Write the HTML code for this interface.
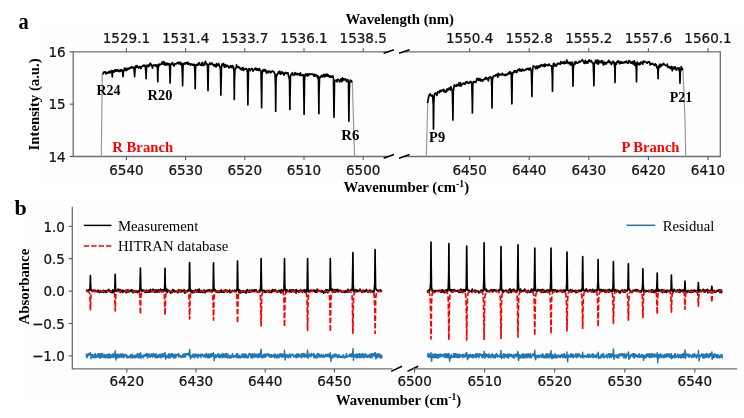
<!DOCTYPE html>
<html><head><meta charset="utf-8"><title>Figure</title>
<style>html,body{margin:0;padding:0;background:#fff}svg{display:block}</style></head>
<body>
<svg width="744" height="418" viewBox="0 0 744 418">
<rect width="744" height="418" fill="#fff"/>
<rect x="42.3" y="25" width="701.7" height="158" fill="#fefefe"/>
<rect x="24" y="203" width="720" height="193" fill="#fefefe"/>
<g fill="none" stroke="#6e6e6e" stroke-width="1.3">
<path d="M388.8,51.8 H73.2 V156.5 H388.8"/>
<path d="M404.4,51.8 H720.3 V156.5 H404.4"/>
</g>
<g stroke="#555" stroke-width="1.1">
<path d="M126.4,156.5 v3.6 M126.4,51.8 v-3.6"/>
<path d="M185.6,156.5 v3.6 M185.6,51.8 v-3.6"/>
<path d="M244.8,156.5 v3.6 M244.8,51.8 v-3.6"/>
<path d="M304.0,156.5 v3.6 M304.0,51.8 v-3.6"/>
<path d="M363.2,156.5 v3.6 M363.2,51.8 v-3.6"/>
<path d="M469.6,156.5 v3.6 M469.6,51.8 v-3.6"/>
<path d="M529.2,156.5 v3.6 M529.2,51.8 v-3.6"/>
<path d="M588.8,156.5 v3.6 M588.8,51.8 v-3.6"/>
<path d="M648.4,156.5 v3.6 M648.4,51.8 v-3.6"/>
<path d="M708.0,156.5 v3.6 M708.0,51.8 v-3.6"/>
<path d="M73.2,51.8 h-3.6"/>
<path d="M73.2,104.15 h-3.6"/>
<path d="M73.2,156.5 h-3.6"/>
</g>
<g stroke="#000" stroke-width="1.6">
<path d="M383.6,53.3 L394.0,49.7 M399.0,53.3 L409.6,49.7"/>
<path d="M383.6,158.20000000000002 L394.0,154.6 M399.0,158.20000000000002 L409.6,154.6"/>
<path d="M391.2,371.4 L402.0,366.3 M407.4,371.4 L418.2,366.3"/>
</g>
<g fill="none" stroke="#9a9a9a" stroke-width="1.2">
<path d="M102.3,73.0 L101.3,156.5"/>
<path d="M352.3,81.5 L354.6,156.5"/>
<path d="M427.7,103 L426.3,156.5"/>
<path d="M683.0,70.2 L685.0,120 L685.8,156.5"/>
</g>
<g fill="none" stroke="#000" stroke-width="1.7" stroke-linejoin="round">
<polyline points="102.5,73.8 103.0,73.8 103.5,72.7 104.0,71.9 104.5,72.3 105.0,71.8 105.5,72.5 106.0,73.9 106.5,72.3 107.0,72.5 107.5,73.2 108.0,72.9 108.5,72.3 109.0,71.3 109.5,72.1 110.0,73.0 110.5,71.3 111.0,71.8 111.5,70.6 112.0,71.4 112.3,77.0 112.5,73.1 113.0,70.5 113.5,71.8 114.0,71.7 114.5,71.8 115.0,69.6 115.5,71.0 116.0,71.1 116.5,71.2 117.0,69.7 117.5,70.8 118.0,70.0 118.5,70.3 119.0,71.7 119.5,70.3 120.0,70.6 120.5,71.4 121.0,69.6 121.5,70.1 122.0,70.2 122.5,71.0 123.0,76.7 123.5,70.4 124.0,70.8 124.5,68.2 125.0,70.4 125.5,69.7 126.0,68.3 126.5,70.5 127.0,69.5 127.5,68.5 128.0,69.3 128.5,68.8 129.0,68.1 129.5,68.6 130.0,67.6 130.5,68.0 131.0,68.2 131.5,66.7 132.0,67.1 132.5,67.3 133.0,68.0 133.5,67.2 134.0,68.1 134.5,74.6 134.6,76.7 135.0,69.9 135.5,66.0 136.0,66.1 136.5,67.4 137.0,65.5 137.5,67.0 138.0,67.4 138.5,68.1 139.0,67.5 139.5,66.5 140.0,66.8 140.5,67.1 141.0,68.5 141.5,66.5 142.0,66.4 142.5,66.5 143.0,65.6 143.5,65.6 144.0,65.0 144.5,66.5 145.0,65.6 145.5,67.3 146.0,74.5 146.1,78.7 146.5,67.0 147.0,65.0 147.5,66.4 148.0,66.1 148.5,66.5 149.0,64.5 149.5,66.0 150.0,63.6 150.5,63.2 151.0,64.5 151.5,64.9 152.0,66.3 152.5,68.2 153.0,65.4 153.5,65.1 154.0,65.7 154.5,65.6 155.0,64.9 155.5,64.9 156.0,66.3 156.5,66.2 157.0,64.9 157.5,68.0 157.8,81.7 158.0,70.2 158.5,66.3 159.0,64.1 159.5,65.5 160.0,64.2 160.5,64.5 161.0,64.2 161.5,64.2 162.0,62.0 162.5,62.5 163.0,64.0 163.5,61.6 164.0,64.3 164.5,62.4 165.0,65.1 165.5,63.3 166.0,64.8 166.5,64.1 167.0,63.1 167.5,64.9 168.0,64.9 168.5,63.5 169.0,63.5 169.5,64.8 170.0,76.2 170.1,83.0 170.5,65.5 171.0,63.9 171.5,63.5 172.0,63.3 172.5,62.7 173.0,64.9 173.5,64.5 174.0,66.1 174.5,64.9 175.0,63.7 175.5,63.9 176.0,63.6 176.5,63.8 177.0,63.0 177.5,63.3 178.0,62.4 178.5,62.4 179.0,63.9 179.5,62.4 180.0,62.3 180.5,63.9 181.0,64.8 181.5,63.0 182.0,64.9 182.5,78.5 182.6,85.7 183.0,66.7 183.5,63.5 184.0,63.8 184.5,63.1 185.0,64.2 185.5,62.9 186.0,63.2 186.5,62.7 187.0,62.3 187.5,64.2 188.0,62.3 188.5,64.2 189.0,64.5 189.5,64.2 190.0,63.7 190.5,65.0 191.0,64.2 191.5,64.0 192.0,64.0 192.5,65.2 193.0,65.2 193.5,64.5 194.0,64.3 194.5,64.6 195.0,74.7 195.2,88.7 195.5,68.5 196.0,65.0 196.5,64.5 197.0,65.1 197.5,65.1 198.0,63.9 198.5,65.0 199.0,62.6 199.5,64.2 200.0,64.3 200.5,64.4 201.0,65.4 201.5,64.5 202.0,62.8 202.5,62.5 203.0,65.6 203.5,64.3 204.0,65.1 204.5,65.0 205.0,62.1 205.5,61.4 206.0,63.8 206.5,64.1 207.0,63.9 207.5,66.0 208.0,90.7 208.5,64.9 209.0,64.3 209.5,63.7 210.0,62.9 210.5,64.6 211.0,64.0 211.5,64.0 212.0,63.0 212.5,64.0 213.0,64.8 213.5,65.4 214.0,66.0 214.5,64.5 215.0,65.5 215.5,65.4 216.0,67.0 216.5,63.7 217.0,65.7 217.5,64.9 218.0,65.1 218.5,63.6 219.0,64.6 219.5,66.5 220.0,66.6 220.5,69.7 220.9,95.1 221.0,87.1 221.5,67.3 222.0,64.1 222.5,65.2 223.0,64.4 223.5,63.5 224.0,66.0 224.5,67.3 225.0,66.3 225.5,64.7 226.0,65.6 226.5,66.8 227.0,66.0 227.5,65.4 228.0,66.2 228.5,66.7 229.0,68.0 229.5,67.2 230.0,67.0 230.5,65.6 231.0,67.2 231.5,66.3 232.0,67.7 232.5,65.5 233.0,66.4 233.5,67.1 234.0,71.8 234.3,99.4 234.5,80.1 235.0,69.0 235.5,69.1 236.0,68.1 236.5,64.8 237.0,67.1 237.5,66.9 238.0,67.5 238.5,66.6 239.0,67.2 239.5,67.4 240.0,68.8 240.5,68.8 241.0,68.4 241.5,70.0 242.0,68.2 242.5,68.7 243.0,67.5 243.5,70.5 244.0,69.8 244.5,69.3 245.0,69.0 245.5,68.5 246.0,69.2 246.5,68.6 247.0,69.8 247.5,73.5 247.9,104.8 248.0,93.3 248.5,70.2 249.0,68.7 249.5,68.6 250.0,70.6 250.5,69.5 251.0,69.5 251.5,68.9 252.0,68.5 252.5,69.5 253.0,71.3 253.5,70.0 254.0,69.8 254.5,68.8 255.0,69.7 255.5,68.1 256.0,69.4 256.5,68.7 257.0,70.3 257.5,68.8 258.0,69.9 258.5,70.4 259.0,68.8 259.5,68.7 260.0,70.2 260.5,70.8 261.0,71.1 261.5,95.8 261.6,107.7 262.0,75.0 262.5,71.7 263.0,69.9 263.5,71.0 264.0,69.5 264.5,69.5 265.0,71.1 265.5,69.9 266.0,72.0 266.5,73.0 267.0,71.4 267.5,72.0 268.0,72.7 268.5,71.1 269.0,71.2 269.5,71.1 270.0,72.2 270.5,72.8 271.0,72.3 271.5,71.3 272.0,71.3 272.5,71.1 273.0,71.5 273.5,71.3 274.0,72.4 274.5,73.3 275.0,74.1 275.5,86.8 275.7,111.2 276.0,80.1 276.5,74.6 277.0,75.6 277.5,74.2 278.0,73.1 278.5,72.0 279.0,73.4 279.5,71.4 280.0,71.6 280.5,74.1 281.0,73.9 281.5,73.2 282.0,71.7 282.5,73.0 283.0,72.7 283.5,73.7 284.0,75.1 284.5,73.7 285.0,72.9 285.5,72.5 286.0,73.5 286.5,73.4 287.0,72.7 287.5,73.4 288.0,73.0 288.5,75.8 289.0,77.2 289.5,80.3 289.9,109.5 290.0,99.0 290.5,76.1 291.0,74.7 291.5,74.0 292.0,73.4 292.5,72.8 293.0,75.4 293.5,74.4 294.0,74.5 294.5,74.9 295.0,72.7 295.5,73.8 296.0,74.7 296.5,74.5 297.0,73.3 297.5,74.6 298.0,74.3 298.5,73.8 299.0,73.8 299.5,75.4 300.0,75.0 300.5,72.8 301.0,75.3 301.5,75.2 302.0,75.7 302.5,74.8 303.0,74.7 303.5,75.7 304.0,103.9 304.1,114.2 304.5,80.8 305.0,74.6 305.5,75.0 306.0,74.0 306.5,75.0 307.0,75.9 307.5,73.9 308.0,75.8 308.5,75.2 309.0,73.8 309.5,74.3 310.0,74.1 310.5,74.5 311.0,74.2 311.5,74.0 312.0,74.3 312.5,74.0 313.0,74.0 313.5,75.4 314.0,76.3 314.5,74.3 315.0,76.1 315.5,75.0 316.0,74.8 316.5,75.7 317.0,75.4 317.5,77.6 318.0,76.0 318.5,81.2 318.9,113.6 319.0,94.0 319.5,78.8 320.0,76.8 320.5,77.2 321.0,76.5 321.5,75.5 322.0,76.5 322.5,75.8 323.0,76.8 323.5,74.6 324.0,76.3 324.5,74.6 325.0,76.7 325.5,75.0 326.0,74.2 326.5,75.7 327.0,76.2 327.5,74.2 328.0,75.0 328.5,76.0 329.0,75.7 329.5,77.2 330.0,75.9 330.5,76.0 331.0,77.0 331.5,76.2 332.0,77.2 332.5,76.0 333.0,76.2 333.5,78.9 334.0,117.2 334.5,81.9 335.0,80.7 335.5,80.7 336.0,80.2 336.5,80.3 337.0,81.8 337.5,79.4 338.0,79.4 338.5,79.9 339.0,80.3 339.5,81.8 340.0,81.6 340.5,79.4 341.0,79.0 341.5,80.1 342.0,81.7 342.5,77.9 343.0,80.3 343.5,78.9 344.0,80.1 344.5,79.0 345.0,79.6 345.5,79.0 346.0,79.3 346.5,81.7 347.0,81.1 347.5,79.9 348.0,79.8 348.5,82.7 348.9,121.1 349.0,108.2 349.5,83.1 350.0,82.0 350.5,80.0 351.0,81.2 351.5,81.0 352.0,82.6"/>
<polyline points="427.6,103.0 428.2,99.5 428.8,96.2 429.3,94.9 429.8,94.6 430.3,93.7 430.8,95.5 431.3,95.6 431.8,96.2 432.3,95.2 432.8,97.1 433.3,105.1 433.5,129.0 433.8,102.4 434.3,95.1 434.8,93.5 435.3,93.4 435.8,92.8 436.3,93.9 436.8,95.5 437.3,93.4 437.8,91.5 438.3,92.0 438.8,92.3 439.3,92.9 439.8,90.9 440.3,90.4 440.8,91.3 441.3,91.3 441.8,90.4 442.3,90.2 442.8,89.9 443.3,90.8 443.8,89.3 444.3,92.0 444.8,90.8 445.3,91.5 445.8,92.2 446.3,91.4 446.8,89.2 447.3,90.6 447.8,90.6 448.3,88.6 448.8,88.3 449.3,88.9 449.8,88.0 450.3,90.1 450.8,86.8 451.3,88.1 451.8,89.6 452.3,90.0 452.8,110.1 452.9,120.0 453.3,90.8 453.8,88.4 454.3,84.9 454.8,86.3 455.3,85.5 455.8,86.1 456.3,86.1 456.8,84.7 457.3,85.2 457.8,85.7 458.3,84.9 458.8,83.2 459.3,85.7 459.8,85.8 460.3,82.5 460.8,84.3 461.3,86.0 461.8,84.7 462.3,84.1 462.8,83.7 463.3,83.2 463.8,83.8 464.3,83.7 464.8,84.4 465.3,82.7 465.8,82.2 466.3,81.7 466.8,82.8 467.3,82.0 467.8,82.4 468.3,83.4 468.8,82.8 469.3,83.0 469.8,82.1 470.3,81.7 470.8,81.4 471.3,82.4 471.8,84.6 472.3,102.6 472.4,112.9 472.8,85.0 473.3,81.6 473.8,81.5 474.3,81.7 474.8,82.1 475.3,81.6 475.8,82.5 476.3,80.9 476.8,78.7 477.3,79.7 477.8,78.3 478.3,80.3 478.8,80.5 479.3,80.3 479.8,78.5 480.3,79.4 480.8,81.1 481.3,79.8 481.8,79.7 482.3,80.2 482.8,81.1 483.3,79.9 483.8,79.3 484.3,79.5 484.8,79.4 485.3,77.9 485.8,77.5 486.3,78.8 486.8,77.8 487.3,78.9 487.8,78.8 488.3,80.8 488.8,77.7 489.3,77.6 489.8,77.1 490.3,76.9 490.8,77.9 491.3,77.7 491.8,87.2 492.0,108.0 492.3,81.7 492.8,78.1 493.3,76.4 493.8,75.7 494.3,75.7 494.8,76.0 495.3,76.0 495.8,74.8 496.3,75.3 496.8,74.4 497.3,75.3 497.8,77.2 498.3,73.4 498.8,74.4 499.3,75.2 499.8,74.2 500.3,74.4 500.8,74.6 501.3,74.9 501.8,74.5 502.3,73.3 502.8,74.9 503.3,74.4 503.8,74.3 504.3,75.1 504.8,75.4 505.3,75.4 505.8,74.2 506.3,75.0 506.8,75.1 507.3,74.2 507.8,74.2 508.3,73.0 508.8,72.8 509.3,73.8 509.8,71.7 510.3,73.6 510.8,72.3 511.3,73.7 511.8,98.5 511.9,103.8 512.3,75.3 512.8,72.7 513.3,72.7 513.8,71.3 514.3,72.0 514.8,70.5 515.3,71.8 515.8,70.8 516.3,72.2 516.8,72.5 517.3,70.8 517.8,69.8 518.3,70.3 518.8,69.6 519.3,69.0 519.8,70.9 520.3,70.5 520.8,69.5 521.3,71.3 521.8,70.8 522.3,69.2 522.8,69.4 523.3,70.3 523.8,70.7 524.3,70.4 524.8,70.4 525.3,69.6 525.8,69.3 526.3,69.7 526.8,69.2 527.3,68.4 527.8,69.2 528.3,69.5 528.8,68.4 529.3,69.9 529.8,69.1 530.3,68.0 530.8,69.8 531.3,70.4 531.8,88.1 531.9,96.4 532.3,72.2 532.8,68.9 533.3,65.9 533.8,66.8 534.3,66.5 534.8,66.3 535.3,67.4 535.8,68.7 536.3,67.3 536.8,66.1 537.3,68.5 537.8,66.3 538.3,66.1 538.8,67.5 539.3,67.1 539.8,65.6 540.3,66.8 540.8,65.4 541.3,64.6 541.8,65.4 542.3,66.0 542.8,65.2 543.3,65.2 543.8,64.6 544.3,66.7 544.8,64.0 545.3,66.2 545.8,64.6 546.3,64.8 546.8,65.0 547.3,65.4 547.8,65.6 548.3,65.1 548.8,64.1 549.3,64.5 549.8,65.1 550.3,65.6 550.8,65.9 551.3,65.8 551.8,66.9 552.3,75.9 552.5,91.2 552.8,68.8 553.3,64.0 553.8,63.3 554.3,65.9 554.8,64.0 555.3,65.8 555.8,65.2 556.3,66.1 556.8,65.2 557.3,63.7 557.8,63.1 558.3,63.8 558.8,64.0 559.3,63.5 559.8,63.3 560.3,64.4 560.8,61.7 561.3,63.2 561.8,62.3 562.3,62.6 562.8,63.3 563.3,62.2 563.8,63.4 564.3,61.6 564.8,63.6 565.3,62.3 565.8,63.2 566.3,63.0 566.8,60.0 567.3,61.2 567.8,62.3 568.3,63.5 568.8,62.8 569.3,63.0 569.8,62.1 570.3,65.0 570.8,64.9 571.3,62.8 571.8,62.6 572.3,62.2 572.8,72.4 573.0,86.2 573.3,68.4 573.8,64.9 574.3,63.9 574.8,62.2 575.3,64.0 575.8,61.6 576.3,62.3 576.8,62.9 577.3,63.1 577.8,63.1 578.3,62.7 578.8,62.2 579.3,61.1 579.8,62.2 580.3,61.8 580.8,61.2 581.3,60.9 581.8,60.7 582.3,59.5 582.8,61.0 583.3,61.0 583.8,62.8 584.3,62.0 584.8,63.4 585.3,60.4 585.8,61.9 586.3,63.0 586.8,62.0 587.3,61.5 587.8,63.1 588.3,61.2 588.8,60.3 589.3,59.8 589.8,61.4 590.3,61.7 590.8,60.8 591.3,60.6 591.8,62.2 592.3,62.6 592.8,62.5 593.3,64.5 593.8,79.3 593.9,85.7 594.3,64.5 594.8,63.0 595.3,61.5 595.8,60.1 596.3,62.0 596.8,63.0 597.3,63.6 597.8,60.0 598.3,64.1 598.8,60.7 599.3,62.5 599.8,62.6 600.3,62.5 600.8,61.9 601.3,60.6 601.8,62.9 602.3,62.2 602.8,61.0 603.3,65.0 603.8,63.4 604.3,64.3 604.8,62.0 605.3,63.5 605.8,63.6 606.3,64.0 606.8,62.6 607.3,62.1 607.8,62.3 608.3,60.8 608.8,60.3 609.3,62.7 609.8,61.5 610.3,62.5 610.8,62.3 611.3,64.5 611.8,63.7 612.3,62.2 612.8,62.5 613.3,61.2 613.8,61.9 614.3,63.8 614.8,68.1 615.0,82.5 615.3,64.6 615.8,62.9 616.3,64.3 616.8,61.8 617.3,62.4 617.8,60.9 618.3,61.4 618.8,61.1 619.3,63.4 619.8,63.7 620.3,62.6 620.8,61.7 621.3,63.2 621.8,62.2 622.3,63.1 622.8,62.2 623.3,62.3 623.8,62.8 624.3,62.2 624.8,62.5 625.3,61.6 625.8,62.4 626.3,61.1 626.8,62.3 627.3,62.4 627.8,63.3 628.3,62.8 628.8,60.6 629.3,61.2 629.8,61.0 630.3,62.6 630.8,63.2 631.3,62.6 631.8,61.9 632.3,63.6 632.8,61.5 633.3,64.0 633.8,62.6 634.3,60.8 634.8,65.3 635.3,64.1 635.8,63.0 636.3,70.1 636.5,81.7 636.8,66.5 637.3,62.1 637.8,62.9 638.3,64.3 638.8,64.2 639.3,64.8 639.8,63.2 640.3,64.3 640.8,62.0 641.3,62.8 641.8,62.2 642.3,62.7 642.8,64.2 643.3,61.2 643.8,62.4 644.3,62.2 644.8,61.3 645.3,61.7 645.8,62.0 646.3,62.2 646.8,63.1 647.3,63.2 647.8,62.0 648.3,61.8 648.8,62.1 649.3,61.7 649.8,63.2 650.3,64.9 650.8,63.9 651.3,63.5 651.8,64.1 652.3,63.9 652.8,63.5 653.3,64.0 653.8,64.8 654.3,65.3 654.8,65.4 655.3,63.9 655.8,64.4 656.3,64.7 656.8,67.6 657.3,67.0 657.8,69.6 658.1,78.7 658.3,70.9 658.8,65.5 659.3,65.5 659.8,67.3 660.3,64.2 660.8,66.3 661.3,66.0 661.8,64.5 662.3,64.9 662.8,65.0 663.3,63.4 663.8,64.6 664.3,64.1 664.8,64.9 665.3,65.1 665.8,65.7 666.3,65.5 666.8,65.6 667.3,64.2 667.8,67.4 668.3,67.1 668.8,67.0 669.3,66.6 669.8,67.5 670.3,68.6 670.8,68.2 671.3,66.4 671.8,68.8 672.3,70.7 672.8,67.0 673.3,68.9 673.8,68.4 674.3,67.1 674.8,68.7 675.3,66.8 675.8,69.0 676.3,70.1 676.8,68.7 677.3,68.1 677.8,68.6 678.3,67.9 678.8,70.0 679.3,68.1 679.8,74.5 680.0,83.2 680.3,72.5 680.8,69.3 681.3,66.6 681.8,69.6 682.3,68.6 682.8,70.2"/>
</g>
<g font-family="'DejaVu Sans', sans-serif" font-size="14.5" fill="#111" stroke="#111" stroke-width="0.25">
<text transform="translate(126.4,42.5) scale(0.934,1)" text-anchor="middle">1529.1</text>
<text transform="translate(185.6,42.5) scale(0.934,1)" text-anchor="middle">1531.4</text>
<text transform="translate(244.8,42.5) scale(0.934,1)" text-anchor="middle">1533.7</text>
<text transform="translate(304.0,42.5) scale(0.934,1)" text-anchor="middle">1536.1</text>
<text transform="translate(363.2,42.5) scale(0.934,1)" text-anchor="middle">1538.5</text>
<text transform="translate(469.6,42.5) scale(0.934,1)" text-anchor="middle">1550.4</text>
<text transform="translate(529.2,42.5) scale(0.934,1)" text-anchor="middle">1552.8</text>
<text transform="translate(588.8,42.5) scale(0.934,1)" text-anchor="middle">1555.2</text>
<text transform="translate(648.4,42.5) scale(0.934,1)" text-anchor="middle">1557.6</text>
<text transform="translate(708.0,42.5) scale(0.934,1)" text-anchor="middle">1560.1</text>
<text transform="translate(126.4,174.8) scale(0.934,1)" text-anchor="middle">6540</text>
<text transform="translate(185.6,174.8) scale(0.934,1)" text-anchor="middle">6530</text>
<text transform="translate(244.8,174.8) scale(0.934,1)" text-anchor="middle">6520</text>
<text transform="translate(304.0,174.8) scale(0.934,1)" text-anchor="middle">6510</text>
<text transform="translate(363.2,174.8) scale(0.934,1)" text-anchor="middle">6500</text>
<text transform="translate(469.6,174.8) scale(0.934,1)" text-anchor="middle">6450</text>
<text transform="translate(529.2,174.8) scale(0.934,1)" text-anchor="middle">6440</text>
<text transform="translate(588.8,174.8) scale(0.934,1)" text-anchor="middle">6430</text>
<text transform="translate(648.4,174.8) scale(0.934,1)" text-anchor="middle">6420</text>
<text transform="translate(708.0,174.8) scale(0.934,1)" text-anchor="middle">6410</text>
<text transform="translate(126.8,386.3) scale(0.934,1)" text-anchor="middle">6420</text>
<text transform="translate(196.0,386.3) scale(0.934,1)" text-anchor="middle">6430</text>
<text transform="translate(265.2,386.3) scale(0.934,1)" text-anchor="middle">6440</text>
<text transform="translate(334.4,386.3) scale(0.934,1)" text-anchor="middle">6450</text>
<text transform="translate(414.6,386.3) scale(0.934,1)" text-anchor="middle">6500</text>
<text transform="translate(484.7,386.3) scale(0.934,1)" text-anchor="middle">6510</text>
<text transform="translate(554.7,386.3) scale(0.934,1)" text-anchor="middle">6520</text>
<text transform="translate(624.8,386.3) scale(0.934,1)" text-anchor="middle">6530</text>
<text transform="translate(694.8,386.3) scale(0.934,1)" text-anchor="middle">6540</text>
<text transform="translate(65.6,57.0) scale(0.934,1)" text-anchor="end">16</text>
<text transform="translate(65.6,109.4) scale(0.934,1)" text-anchor="end">15</text>
<text transform="translate(65.6,161.7) scale(0.934,1)" text-anchor="end">14</text>
<text transform="translate(64.9,231.5) scale(0.934,1)" text-anchor="end">1.0</text>
<text transform="translate(64.9,263.9) scale(0.934,1)" text-anchor="end">0.5</text>
<text transform="translate(64.9,296.3) scale(0.934,1)" text-anchor="end">0.0</text>
<text transform="translate(64.9,328.7) scale(0.934,1)" text-anchor="end">−0.5</text>
<text transform="translate(64.9,361.1) scale(0.934,1)" text-anchor="end">−1.0</text>
</g>
<path d="M72.3,206.8 V368.9 H392.5 M412.8,368.9 H737.1" fill="none" stroke="#6e6e6e" stroke-width="1.3"/>
<g stroke="#555" stroke-width="1.1">
<path d="M72.3,226.3 h-3.6"/>
<path d="M72.3,258.7 h-3.6"/>
<path d="M72.3,291.1 h-3.6"/>
<path d="M72.3,323.5 h-3.6"/>
<path d="M72.3,355.9 h-3.6"/>
<path d="M126.8,368.9 v3.6"/>
<path d="M196.0,368.9 v3.6"/>
<path d="M265.2,368.9 v3.6"/>
<path d="M334.4,368.9 v3.6"/>
<path d="M414.6,368.9 v3.6"/>
<path d="M484.7,368.9 v3.6"/>
<path d="M554.7,368.9 v3.6"/>
<path d="M624.8,368.9 v3.6"/>
<path d="M694.8,368.9 v3.6"/>
</g>
<g fill="none" stroke-linejoin="round" stroke-width="1.5">
<polyline stroke="#000" stroke-width="1.7" points="86.4,291.0 86.8,290.2 87.2,291.0 87.6,291.3 88.0,291.4 88.4,290.0 88.8,289.9 89.2,289.5 89.6,289.8 90.0,290.0 90.4,275.5 90.4,276.5 90.8,288.9 91.2,289.2 91.6,290.6 92.0,291.1 92.4,290.7 92.8,291.0 93.2,291.2 93.6,290.0 94.0,291.0 94.4,290.4 94.8,290.2 95.2,290.5 95.6,291.5 96.0,291.2 96.4,291.0 96.8,291.0 97.2,291.8 97.6,290.8 98.0,290.1 98.4,291.5 98.8,292.0 99.2,292.3 99.6,290.8 100.0,292.3 100.4,290.6 100.8,292.1 101.2,291.7 101.6,291.9 102.0,292.0 102.4,291.1 102.8,291.5 103.2,290.4 103.6,292.4 104.0,291.4 104.4,291.0 104.8,290.6 105.2,291.3 105.6,292.4 106.0,290.7 106.4,292.2 106.8,291.0 107.2,291.8 107.6,291.4 108.0,290.0 108.4,291.3 108.8,289.3 109.2,290.4 109.6,291.0 110.0,291.3 110.4,292.0 110.8,290.9 111.2,292.4 111.6,291.4 112.0,292.3 112.4,292.5 112.8,289.9 113.2,292.2 113.6,291.5 114.0,291.2 114.4,291.4 114.8,289.3 115.2,274.5 115.2,274.4 115.6,289.9 116.0,291.2 116.4,290.4 116.8,290.9 117.2,290.2 117.6,291.0 118.0,289.1 118.4,290.9 118.8,290.9 119.2,289.7 119.6,291.3 120.0,289.5 120.4,292.4 120.8,290.6 121.2,291.5 121.6,291.2 122.0,290.2 122.4,290.2 122.8,292.4 123.2,291.8 123.6,291.8 124.0,290.7 124.4,291.2 124.8,290.8 125.2,290.4 125.6,290.4 126.0,292.6 126.4,292.2 126.8,290.2 127.2,290.0 127.6,291.7 128.0,292.0 128.4,291.2 128.8,290.1 129.2,291.6 129.6,291.2 130.0,291.5 130.4,290.7 130.8,290.9 131.2,290.4 131.6,289.8 132.0,290.0 132.4,292.4 132.8,290.3 133.2,292.6 133.6,292.4 134.0,291.0 134.4,291.2 134.8,290.6 135.2,291.5 135.6,292.2 136.0,292.1 136.4,290.7 136.8,291.9 137.2,292.6 137.6,291.4 138.0,291.4 138.4,291.0 138.8,291.8 139.2,291.0 139.6,291.2 140.0,287.4 140.4,269.5 140.4,268.0 140.8,288.6 141.2,289.2 141.6,290.4 142.0,291.5 142.4,290.0 142.8,290.0 143.2,290.3 143.6,291.2 144.0,290.2 144.4,290.8 144.8,291.9 145.2,292.4 145.6,291.8 146.0,292.5 146.4,290.0 146.8,291.4 147.2,292.1 147.6,292.2 148.0,291.0 148.4,290.5 148.8,290.3 149.2,292.2 149.6,291.6 150.0,290.0 150.4,289.4 150.8,292.0 151.2,290.2 151.6,291.1 152.0,290.9 152.4,291.7 152.8,289.3 153.2,290.0 153.6,289.4 154.0,291.9 154.4,291.2 154.8,290.3 155.2,292.3 155.6,291.8 156.0,289.8 156.4,291.8 156.8,290.4 157.2,291.6 157.6,290.4 158.0,292.2 158.4,289.9 158.8,291.0 159.2,290.4 159.6,291.8 160.0,290.9 160.4,289.2 160.8,290.5 161.2,290.4 161.6,291.8 162.0,289.9 162.4,291.5 162.8,290.2 163.2,289.8 163.6,291.6 164.0,290.6 164.4,290.6 164.8,284.4 165.0,268.3 165.2,283.5 165.6,288.9 166.0,291.0 166.4,289.4 166.8,289.1 167.2,292.4 167.6,290.7 168.0,290.7 168.4,290.1 168.8,291.5 169.2,290.9 169.6,290.9 170.0,291.1 170.4,292.6 170.8,293.1 171.2,291.9 171.6,291.2 172.0,290.9 172.4,292.3 172.8,289.7 173.2,291.4 173.6,290.0 174.0,290.2 174.4,291.7 174.8,291.0 175.2,291.4 175.6,291.8 176.0,291.6 176.4,291.1 176.8,291.9 177.2,291.4 177.6,291.6 178.0,292.8 178.4,289.9 178.8,289.9 179.2,291.3 179.6,290.2 180.0,290.5 180.4,292.0 180.8,290.1 181.2,290.4 181.6,291.5 182.0,290.4 182.4,291.4 182.8,291.2 183.2,291.7 183.6,291.2 184.0,289.7 184.4,289.9 184.8,293.2 185.2,291.6 185.6,291.0 186.0,291.8 186.4,290.8 186.8,291.8 187.2,290.8 187.6,290.6 188.0,289.9 188.4,290.3 188.8,291.2 189.2,289.5 189.6,262.6 189.6,262.7 190.0,287.0 190.4,290.0 190.8,291.4 191.2,291.9 191.6,290.4 192.0,291.5 192.4,292.3 192.8,292.7 193.2,290.6 193.6,292.4 194.0,290.8 194.4,292.4 194.8,291.4 195.2,290.8 195.6,289.7 196.0,290.5 196.4,291.5 196.8,292.0 197.2,291.1 197.6,289.8 198.0,292.2 198.4,292.0 198.8,291.3 199.2,289.2 199.6,291.4 200.0,292.0 200.4,292.3 200.8,292.1 201.2,290.4 201.6,290.9 202.0,292.3 202.4,292.1 202.8,292.4 203.2,291.3 203.6,290.6 204.0,289.9 204.4,291.4 204.8,292.7 205.2,291.1 205.6,292.0 206.0,290.6 206.4,291.0 206.8,291.3 207.2,290.3 207.6,290.2 208.0,291.5 208.4,290.6 208.8,290.8 209.2,289.5 209.6,291.4 210.0,290.6 210.4,291.2 210.8,291.3 211.2,290.1 211.6,290.6 212.0,290.5 212.4,291.4 212.8,291.1 213.2,287.8 213.5,262.8 213.6,273.1 214.0,289.6 214.4,290.7 214.8,289.3 215.2,290.4 215.6,291.5 216.0,291.9 216.4,291.7 216.8,290.8 217.2,292.3 217.6,291.4 218.0,291.5 218.4,291.8 218.8,291.1 219.2,292.5 219.6,292.0 220.0,292.0 220.4,290.7 220.8,290.5 221.2,289.9 221.6,292.1 222.0,292.2 222.4,291.0 222.8,291.7 223.2,291.9 223.6,290.6 224.0,292.5 224.4,290.8 224.8,290.5 225.2,290.0 225.6,291.3 226.0,290.9 226.4,291.6 226.8,290.1 227.2,292.2 227.6,290.7 228.0,291.7 228.4,291.4 228.8,291.3 229.2,290.7 229.6,290.0 230.0,292.7 230.4,292.4 230.8,291.7 231.2,292.0 231.6,290.9 232.0,291.3 232.4,290.5 232.8,291.2 233.2,291.0 233.6,291.1 234.0,291.2 234.4,291.4 234.8,290.0 235.2,290.8 235.6,290.7 236.0,291.6 236.4,291.0 236.8,290.4 237.2,287.3 237.5,261.1 237.6,270.5 238.0,288.3 238.4,290.6 238.8,292.4 239.2,290.2 239.6,289.9 240.0,292.9 240.4,293.0 240.8,290.9 241.2,292.3 241.6,291.6 242.0,292.2 242.4,290.7 242.8,290.9 243.2,292.2 243.6,290.7 244.0,291.8 244.4,291.1 244.8,292.0 245.2,292.0 245.6,291.1 246.0,293.1 246.4,291.6 246.8,291.7 247.2,289.6 247.6,290.0 248.0,291.1 248.4,292.2 248.8,291.5 249.2,291.2 249.6,290.0 250.0,292.3 250.4,292.1 250.8,291.0 251.2,291.5 251.6,291.3 252.0,289.9 252.4,291.0 252.8,291.5 253.2,291.6 253.6,291.0 254.0,290.0 254.4,289.8 254.8,291.6 255.2,290.0 255.6,290.0 256.0,289.7 256.4,291.2 256.8,291.6 257.2,291.9 257.6,292.1 258.0,291.7 258.4,291.3 258.8,290.6 259.2,290.6 259.6,292.4 260.0,289.7 260.4,290.7 260.8,284.6 261.1,258.7 261.2,269.1 261.6,288.3 262.0,290.0 262.4,291.2 262.8,290.7 263.2,290.6 263.6,290.7 264.0,290.2 264.4,291.9 264.8,291.5 265.2,292.3 265.6,292.1 266.0,290.9 266.4,290.9 266.8,292.0 267.2,290.7 267.6,290.3 268.0,290.7 268.4,291.5 268.8,292.1 269.2,292.5 269.6,290.3 270.0,292.2 270.4,291.7 270.8,292.3 271.2,291.2 271.6,292.5 272.0,290.8 272.4,289.5 272.8,290.0 273.2,291.2 273.6,290.3 274.0,291.4 274.4,291.5 274.8,290.5 275.2,289.6 275.6,290.0 276.0,291.2 276.4,291.3 276.8,291.1 277.2,292.3 277.6,291.2 278.0,290.9 278.4,291.4 278.8,291.7 279.2,290.2 279.6,290.8 280.0,291.8 280.4,290.8 280.8,292.8 281.2,289.9 281.6,289.6 282.0,291.8 282.4,290.4 282.8,290.7 283.2,292.0 283.6,290.4 284.0,289.1 284.4,269.4 284.5,258.7 284.8,284.6 285.2,289.8 285.6,290.3 286.0,292.2 286.4,289.6 286.8,289.8 287.2,290.2 287.6,291.3 288.0,291.6 288.4,291.5 288.8,291.3 289.2,291.5 289.6,289.9 290.0,290.0 290.4,291.9 290.8,290.2 291.2,292.2 291.6,290.7 292.0,289.9 292.4,290.0 292.8,290.6 293.2,289.9 293.6,291.7 294.0,291.0 294.4,291.2 294.8,291.5 295.2,290.0 295.6,290.3 296.0,293.2 296.4,289.5 296.8,291.6 297.2,291.4 297.6,291.1 298.0,290.6 298.4,290.9 298.8,292.2 299.2,291.7 299.6,290.7 300.0,290.4 300.4,290.0 300.8,291.5 301.2,290.8 301.6,290.2 302.0,291.5 302.4,292.4 302.8,291.8 303.2,290.4 303.6,291.0 304.0,290.0 304.4,289.8 304.8,292.2 305.2,290.7 305.6,290.1 306.0,291.4 306.4,292.5 306.8,291.9 307.2,286.8 307.6,258.7 307.6,258.7 308.0,288.3 308.4,291.2 308.8,291.8 309.2,291.7 309.6,290.6 310.0,290.7 310.4,290.4 310.8,290.8 311.2,290.3 311.6,290.2 312.0,290.6 312.4,290.6 312.8,291.1 313.2,291.2 313.6,290.3 314.0,290.0 314.4,291.5 314.8,291.5 315.2,292.0 315.6,290.7 316.0,291.6 316.4,290.5 316.8,292.2 317.2,289.2 317.6,289.9 318.0,290.9 318.4,291.1 318.8,290.6 319.2,290.6 319.6,290.7 320.0,291.1 320.4,291.3 320.8,291.3 321.2,290.5 321.6,292.2 322.0,291.3 322.4,290.9 322.8,291.8 323.2,291.7 323.6,293.1 324.0,291.6 324.4,292.1 324.8,290.9 325.2,291.2 325.6,292.5 326.0,289.6 326.4,290.6 326.8,291.3 327.2,289.8 327.6,292.6 328.0,290.4 328.4,292.1 328.8,290.8 329.2,290.0 329.6,290.5 330.0,285.3 330.3,258.7 330.4,269.0 330.8,287.6 331.2,290.2 331.6,290.7 332.0,290.6 332.4,289.1 332.8,292.4 333.2,292.1 333.6,290.6 334.0,290.0 334.4,289.7 334.8,291.9 335.2,290.7 335.6,292.2 336.0,289.6 336.4,289.9 336.8,291.3 337.2,291.4 337.6,289.3 338.0,292.0 338.4,291.2 338.8,290.4 339.2,290.2 339.6,291.3 340.0,291.2 340.4,290.8 340.8,290.3 341.2,290.9 341.6,292.0 342.0,291.8 342.4,292.1 342.8,291.4 343.2,291.5 343.6,291.2 344.0,292.0 344.4,291.3 344.8,292.4 345.2,290.9 345.6,290.6 346.0,291.8 346.4,291.2 346.8,292.1 347.2,292.1 347.6,290.6 348.0,289.3 348.4,291.8 348.8,291.8 349.2,290.9 349.6,291.3 350.0,291.4 350.4,289.7 350.8,290.1 351.2,290.4 351.6,290.6 352.0,290.7 352.4,286.4 352.8,264.1 352.9,252.7 353.2,284.2 353.6,289.5 354.0,291.7 354.4,291.9 354.8,291.7 355.2,291.8 355.6,289.6 356.0,290.5 356.4,291.4 356.8,291.7 357.2,290.1 357.6,291.1 358.0,290.7 358.4,291.2 358.8,291.3 359.2,290.4 359.6,290.3 360.0,289.1 360.4,291.2 360.8,290.8 361.2,290.6 361.6,291.6 362.0,292.4 362.4,290.4 362.8,291.8 363.2,290.4 363.6,291.8 364.0,291.1 364.4,290.7 364.8,291.8 365.2,291.4 365.6,290.4 366.0,291.1 366.4,289.6 366.8,290.4 367.2,291.6 367.6,291.8 368.0,292.4 368.4,291.1 368.8,290.7 369.2,290.4 369.6,290.5 370.0,290.0 370.4,292.2 370.8,291.8 371.2,291.5 371.6,290.9 372.0,290.7 372.4,291.4 372.8,292.0 373.2,291.6 373.6,292.0 374.0,291.6 374.4,288.7 374.8,283.1 375.1,249.5 375.2,262.9 375.6,288.4 376.0,288.9 376.4,289.7 376.8,290.3 377.2,290.2 377.6,290.8 378.0,290.4 378.4,291.5 378.8,290.3 379.2,290.8 379.6,291.3 380.0,290.6 380.4,289.8 380.8,290.9 381.2,291.4 381.6,291.0 382.0,290.4"/>
<polyline stroke="#000" stroke-width="1.7" points="427.5,290.3 427.9,292.3 428.3,290.4 428.7,290.1 429.1,292.0 429.5,290.6 429.9,289.9 430.3,287.7 430.7,281.9 431.0,242.0 431.1,258.5 431.5,287.5 431.9,289.3 432.3,291.2 432.7,291.5 433.1,291.0 433.5,290.6 433.9,292.7 434.3,290.5 434.7,290.8 435.1,290.6 435.5,291.6 435.9,290.7 436.3,291.0 436.7,291.1 437.1,290.9 437.5,290.4 437.9,291.0 438.3,291.4 438.7,290.7 439.1,290.5 439.5,290.6 439.9,290.1 440.3,291.2 440.7,292.1 441.1,291.6 441.5,290.4 441.9,292.2 442.3,289.8 442.7,291.1 443.1,290.2 443.5,290.4 443.9,292.5 444.3,290.8 444.7,292.7 445.1,292.5 445.5,290.0 445.9,291.0 446.3,291.3 446.7,289.9 447.1,291.2 447.5,291.8 447.9,290.0 448.3,288.2 448.7,275.1 448.9,243.7 449.1,274.9 449.5,288.6 449.9,290.5 450.3,290.8 450.7,291.1 451.1,289.6 451.5,290.9 451.9,291.6 452.3,290.2 452.7,292.2 453.1,289.8 453.5,291.0 453.9,290.7 454.3,289.6 454.7,289.9 455.1,291.0 455.5,290.6 455.9,290.9 456.3,290.8 456.7,290.9 457.1,290.7 457.5,291.1 457.9,290.4 458.3,290.7 458.7,292.2 459.1,290.3 459.5,292.3 459.9,291.2 460.3,292.5 460.7,289.2 461.1,289.9 461.5,289.5 461.9,292.1 462.3,290.5 462.7,292.5 463.1,291.7 463.5,289.6 463.9,290.6 464.3,290.0 464.7,290.8 465.1,291.6 465.5,289.6 465.9,289.9 466.3,285.9 466.7,246.0 466.7,246.1 467.1,286.1 467.5,289.7 467.9,290.5 468.3,290.4 468.7,290.2 469.1,290.4 469.5,292.1 469.9,290.9 470.3,290.9 470.7,291.1 471.1,291.4 471.5,290.5 471.9,292.2 472.3,289.1 472.7,290.9 473.1,290.5 473.5,291.1 473.9,291.5 474.3,291.7 474.7,290.1 475.1,291.5 475.5,292.3 475.9,290.4 476.3,290.6 476.7,291.2 477.1,291.6 477.5,291.3 477.9,291.0 478.3,291.1 478.7,292.9 479.1,291.8 479.5,292.3 479.9,291.5 480.3,291.5 480.7,291.6 481.1,290.0 481.5,292.2 481.9,290.4 482.3,292.1 482.7,291.3 483.1,291.1 483.5,289.5 483.9,276.3 484.1,242.9 484.3,275.1 484.7,287.5 485.1,290.1 485.5,290.4 485.9,289.3 486.3,289.2 486.7,291.6 487.1,290.4 487.5,291.4 487.9,290.8 488.3,291.5 488.7,291.2 489.1,291.1 489.5,291.8 489.9,290.7 490.3,290.9 490.7,290.0 491.1,290.7 491.5,289.7 491.9,291.3 492.3,290.0 492.7,291.9 493.1,291.1 493.5,289.8 493.9,289.9 494.3,290.7 494.7,289.6 495.1,290.5 495.5,290.1 495.9,289.9 496.3,291.6 496.7,291.3 497.1,291.5 497.5,291.0 497.9,291.0 498.3,290.9 498.7,289.9 499.1,290.9 499.5,289.9 499.9,290.6 500.3,288.7 500.7,282.3 501.0,246.6 501.1,262.8 501.5,287.6 501.9,290.1 502.3,291.1 502.7,291.5 503.1,292.3 503.5,290.4 503.9,290.7 504.3,291.0 504.7,291.1 505.1,290.6 505.5,290.9 505.9,290.2 506.3,290.8 506.7,290.4 507.1,292.0 507.5,290.9 507.9,291.0 508.3,291.1 508.7,292.9 509.1,289.7 509.5,291.0 509.9,288.9 510.3,291.6 510.7,290.0 511.1,292.5 511.5,290.9 511.9,291.5 512.3,289.6 512.7,290.7 513.1,290.1 513.5,290.4 513.9,289.2 514.3,290.7 514.7,291.5 515.1,290.5 515.5,291.7 515.9,291.0 516.3,291.3 516.7,291.1 517.1,291.6 517.5,287.8 517.9,259.0 518.0,244.8 518.3,280.5 518.7,289.2 519.1,289.7 519.5,290.9 519.9,289.6 520.3,291.9 520.7,289.1 521.1,291.2 521.5,291.7 521.9,290.8 522.3,290.9 522.7,291.0 523.1,291.3 523.5,290.3 523.9,290.2 524.3,290.8 524.7,289.1 525.1,290.6 525.5,290.1 525.9,291.9 526.3,290.9 526.7,290.8 527.1,291.6 527.5,292.6 527.9,291.2 528.3,290.3 528.7,291.2 529.1,291.3 529.5,292.5 529.9,291.3 530.3,292.0 530.7,292.0 531.1,290.2 531.5,289.1 531.9,291.4 532.3,291.7 532.7,289.8 533.1,289.8 533.5,289.1 533.9,291.0 534.3,286.6 534.7,262.6 534.8,248.2 535.1,281.7 535.5,290.6 535.9,290.1 536.3,290.7 536.7,291.3 537.1,290.6 537.5,290.8 537.9,289.4 538.3,290.1 538.7,290.2 539.1,290.5 539.5,290.0 539.9,291.0 540.3,290.4 540.7,291.7 541.1,289.5 541.5,292.5 541.9,291.1 542.3,289.9 542.7,289.4 543.1,292.4 543.5,290.2 543.9,290.2 544.3,290.5 544.7,292.1 545.1,292.2 545.5,291.3 545.9,291.1 546.3,290.5 546.7,290.2 547.1,291.7 547.5,292.3 547.9,289.9 548.3,290.7 548.7,290.3 549.1,290.2 549.5,291.3 549.9,291.5 550.3,289.7 550.7,283.2 551.0,248.2 551.1,262.9 551.5,288.8 551.9,289.9 552.3,291.6 552.7,290.3 553.1,289.8 553.5,290.3 553.9,291.5 554.3,291.1 554.7,289.9 555.1,290.9 555.5,289.8 555.9,291.5 556.3,290.8 556.7,292.1 557.1,291.6 557.5,290.4 557.9,290.5 558.3,290.6 558.7,291.4 559.1,290.6 559.5,291.0 559.9,290.9 560.3,290.2 560.7,290.6 561.1,290.1 561.5,290.9 561.9,290.9 562.3,292.3 562.7,292.4 563.1,290.1 563.5,291.3 563.9,290.9 564.3,290.1 564.7,291.5 565.1,292.0 565.5,290.7 565.9,290.1 566.3,289.9 566.7,283.9 567.0,252.1 567.1,265.1 567.5,288.0 567.9,290.6 568.3,290.9 568.7,290.9 569.1,291.1 569.5,290.7 569.9,290.9 570.3,289.5 570.7,290.4 571.1,291.9 571.5,290.9 571.9,292.0 572.3,290.1 572.7,290.6 573.1,291.3 573.5,290.7 573.9,290.8 574.3,291.0 574.7,291.5 575.1,290.3 575.5,291.8 575.9,292.7 576.3,290.6 576.7,291.5 577.1,292.3 577.5,291.1 577.9,291.6 578.3,291.4 578.7,290.2 579.1,291.2 579.5,290.8 579.9,290.1 580.3,291.5 580.7,291.5 581.1,290.0 581.5,291.0 581.9,290.4 582.3,286.7 582.7,256.6 582.7,257.8 583.1,287.8 583.5,290.0 583.9,290.1 584.3,291.3 584.7,291.4 585.1,291.1 585.5,289.8 585.9,290.5 586.3,288.9 586.7,291.0 587.1,290.2 587.5,290.8 587.9,291.7 588.3,290.9 588.7,291.4 589.1,290.1 589.5,290.4 589.9,289.9 590.3,290.7 590.7,289.9 591.1,290.4 591.5,291.9 591.9,290.8 592.3,290.9 592.7,289.4 593.1,290.9 593.5,292.3 593.9,291.5 594.3,291.1 594.7,291.2 595.1,289.8 595.5,290.7 595.9,291.2 596.3,290.4 596.7,291.2 597.1,290.7 597.5,288.2 597.9,280.9 598.1,259.5 598.3,281.7 598.7,289.3 599.1,290.3 599.5,289.6 599.9,290.4 600.3,291.2 600.7,289.8 601.1,289.5 601.5,291.7 601.9,290.9 602.3,290.5 602.7,291.0 603.1,289.9 603.5,290.1 603.9,291.0 604.3,291.1 604.7,291.8 605.1,289.8 605.5,291.3 605.9,292.5 606.3,291.3 606.7,290.6 607.1,290.3 607.5,290.1 607.9,290.0 608.3,292.1 608.7,290.9 609.1,289.3 609.5,292.0 609.9,291.1 610.3,290.7 610.7,290.4 611.1,289.9 611.5,291.7 611.9,290.4 612.3,289.4 612.7,291.1 613.1,285.1 613.4,261.6 613.5,270.9 613.9,289.6 614.3,290.7 614.7,291.2 615.1,291.6 615.5,289.5 615.9,291.4 616.3,292.0 616.7,290.9 617.1,290.2 617.5,290.8 617.9,291.3 618.3,290.6 618.7,291.3 619.1,292.5 619.5,292.7 619.9,291.0 620.3,292.9 620.7,292.0 621.1,290.9 621.5,290.4 621.9,290.1 622.3,290.1 622.7,289.9 623.1,291.8 623.5,291.6 623.9,292.2 624.3,290.6 624.7,289.9 625.1,290.3 625.5,292.1 625.9,290.0 626.3,290.6 626.7,290.7 627.1,290.6 627.5,290.9 627.9,288.9 628.3,266.4 628.4,263.8 628.7,287.4 629.1,289.2 629.5,289.8 629.9,290.0 630.3,291.0 630.7,290.9 631.1,291.8 631.5,291.3 631.9,292.5 632.3,291.9 632.7,291.7 633.1,290.2 633.5,290.9 633.9,290.8 634.3,290.6 634.7,290.4 635.1,289.8 635.5,290.8 635.9,289.6 636.3,291.3 636.7,290.4 637.1,289.6 637.5,290.9 637.9,290.0 638.3,291.2 638.7,291.2 639.1,291.5 639.5,290.8 639.9,291.0 640.3,292.3 640.7,290.9 641.1,291.6 641.5,291.8 641.9,289.5 642.3,288.9 642.7,284.6 642.9,268.8 643.1,283.6 643.5,289.7 643.9,291.8 644.3,289.9 644.7,291.4 645.1,291.7 645.5,291.5 645.9,290.6 646.3,291.5 646.7,291.2 647.1,290.8 647.5,290.9 647.9,291.1 648.3,291.4 648.7,291.7 649.1,290.2 649.5,291.4 649.9,290.9 650.3,291.4 650.7,291.0 651.1,291.8 651.5,289.8 651.9,292.5 652.3,289.8 652.7,291.4 653.1,290.3 653.5,290.3 653.9,292.4 654.3,292.2 654.7,292.1 655.1,290.6 655.5,290.0 655.9,291.6 656.3,292.0 656.7,288.7 657.1,280.1 657.2,273.0 657.5,288.8 657.9,289.0 658.3,291.4 658.7,291.5 659.1,289.8 659.5,291.1 659.9,290.8 660.3,291.2 660.7,290.0 661.1,290.7 661.5,291.6 661.9,289.6 662.3,291.2 662.7,292.7 663.1,290.2 663.5,291.2 663.9,291.2 664.3,290.2 664.7,292.2 665.1,291.5 665.5,291.1 665.9,290.7 666.3,292.4 666.7,290.4 667.1,290.4 667.5,290.7 667.9,290.1 668.3,291.7 668.7,290.8 669.1,291.3 669.5,291.5 669.9,290.4 670.3,290.9 670.7,290.4 671.1,288.2 671.4,275.0 671.5,279.8 671.9,289.6 672.3,291.3 672.7,289.7 673.1,292.6 673.5,290.1 673.9,291.0 674.3,289.3 674.7,290.3 675.1,291.2 675.5,291.4 675.9,291.7 676.3,290.6 676.7,291.4 677.1,290.7 677.5,289.9 677.9,290.0 678.3,291.7 678.7,291.0 679.1,292.0 679.5,289.6 679.9,292.3 680.3,290.2 680.7,290.0 681.1,290.4 681.5,291.0 681.9,291.1 682.3,291.6 682.7,289.9 683.1,290.5 683.5,290.9 683.9,290.0 684.3,291.5 684.7,289.1 685.0,281.2 685.1,285.8 685.5,290.7 685.9,290.4 686.3,291.7 686.7,291.3 687.1,292.4 687.5,291.5 687.9,290.7 688.3,290.4 688.7,291.7 689.1,291.1 689.5,291.3 689.9,292.0 690.3,290.7 690.7,292.3 691.1,290.3 691.5,290.5 691.9,291.0 692.3,292.1 692.7,290.4 693.1,292.0 693.5,291.0 693.9,291.5 694.3,290.0 694.7,290.3 695.1,290.5 695.5,291.3 695.9,291.2 696.3,292.1 696.7,290.6 697.1,290.8 697.5,292.1 697.9,289.9 698.3,284.9 698.4,282.6 698.7,290.7 699.1,291.9 699.5,290.2 699.9,290.9 700.3,289.9 700.7,290.9 701.1,291.5 701.5,290.7 701.9,290.8 702.3,290.8 702.7,290.3 703.1,289.3 703.5,291.4 703.9,289.5 704.3,292.2 704.7,291.9 705.1,292.2 705.5,291.4 705.9,290.2 706.3,290.3 706.7,289.9 707.1,290.3 707.5,289.5 707.9,292.9 708.3,291.9 708.7,291.6 709.1,290.5 709.5,291.8 709.9,291.8 710.3,291.3 710.7,290.2 711.1,290.4 711.5,290.5 711.8,286.3 711.9,287.7 712.3,290.9 712.7,291.1 713.1,291.6 713.5,290.6 713.9,291.6 714.3,290.4 714.7,292.5 715.1,292.1 715.5,291.8 715.9,292.0 716.3,291.0 716.7,291.1 717.1,290.5 717.5,291.1 717.9,290.9 718.3,291.2 718.7,289.8 719.1,289.9 719.5,291.8 719.9,292.4 720.3,292.5 720.7,290.4 721.1,289.9 721.5,292.3 721.9,290.4"/>
<polyline stroke="#f00" stroke-width="1.7" stroke-dasharray="5.4 2.2" points="86.4,291.3 86.8,291.3 87.2,291.4 87.6,291.4 88.0,291.5 88.4,291.6 88.8,291.8 89.2,292.3 89.6,293.5 90.0,297.8 90.4,309.6 90.4,309.6 90.8,297.8 91.2,293.5 91.6,292.3 92.0,291.8 92.4,291.6 92.8,291.5 93.2,291.4 93.6,291.4 94.0,291.3 94.4,291.3 94.8,291.3 95.2,291.3 95.6,291.3 96.0,291.3 96.4,291.3 96.8,291.2 97.2,291.2 97.6,291.2 98.0,291.2 98.4,291.2 98.8,291.2 99.2,291.2 99.6,291.2 100.0,291.2 100.4,291.2 100.8,291.2 101.2,291.2 101.6,291.2 102.0,291.2 102.4,291.2 102.8,291.2 103.2,291.2 103.6,291.2 104.0,291.2 104.4,291.2 104.8,291.2 105.2,291.2 105.6,291.2 106.0,291.2 106.4,291.2 106.8,291.2 107.2,291.2 107.6,291.2 108.0,291.2 108.4,291.2 108.8,291.3 109.2,291.3 109.6,291.3 110.0,291.3 110.4,291.3 110.8,291.3 111.2,291.3 111.6,291.3 112.0,291.4 112.4,291.4 112.8,291.5 113.2,291.6 113.6,291.9 114.0,292.4 114.4,293.6 114.8,298.3 115.2,310.9 115.2,310.9 115.6,298.3 116.0,293.6 116.4,292.4 116.8,291.9 117.2,291.6 117.6,291.5 118.0,291.4 118.4,291.4 118.8,291.3 119.2,291.3 119.6,291.3 120.0,291.3 120.4,291.3 120.8,291.3 121.2,291.3 121.6,291.3 122.0,291.2 122.4,291.2 122.8,291.2 123.2,291.2 123.6,291.2 124.0,291.2 124.4,291.2 124.8,291.2 125.2,291.2 125.6,291.2 126.0,291.2 126.4,291.2 126.8,291.2 127.2,291.2 127.6,291.2 128.0,291.2 128.4,291.2 128.8,291.2 129.2,291.2 129.6,291.2 130.0,291.2 130.4,291.2 130.8,291.2 131.2,291.2 131.6,291.2 132.0,291.2 132.4,291.2 132.8,291.2 133.2,291.3 133.6,291.3 134.0,291.3 134.4,291.3 134.8,291.3 135.2,291.3 135.6,291.3 136.0,291.3 136.4,291.3 136.8,291.4 137.2,291.4 137.6,291.5 138.0,291.6 138.4,291.7 138.8,292.0 139.2,292.6 139.6,294.0 140.0,299.5 140.4,314.2 140.4,314.2 140.8,299.5 141.2,294.0 141.6,292.6 142.0,292.0 142.4,291.7 142.8,291.6 143.2,291.5 143.6,291.4 144.0,291.4 144.4,291.3 144.8,291.3 145.2,291.3 145.6,291.3 146.0,291.3 146.4,291.3 146.8,291.3 147.2,291.3 147.6,291.3 148.0,291.2 148.4,291.2 148.8,291.2 149.2,291.2 149.6,291.2 150.0,291.2 150.4,291.2 150.8,291.2 151.2,291.2 151.6,291.2 152.0,291.2 152.4,291.2 152.8,291.2 153.2,291.2 153.6,291.2 154.0,291.2 154.4,291.2 154.8,291.2 155.2,291.2 155.6,291.2 156.0,291.2 156.4,291.2 156.8,291.2 157.2,291.2 157.6,291.3 158.0,291.3 158.4,291.3 158.8,291.3 159.2,291.3 159.6,291.3 160.0,291.3 160.4,291.3 160.8,291.3 161.2,291.4 161.6,291.4 162.0,291.4 162.4,291.5 162.8,291.6 163.2,291.9 163.6,292.3 164.0,293.2 164.4,296.0 164.8,307.8 165.0,315.1 165.2,307.8 165.6,296.0 166.0,293.2 166.4,292.3 166.8,291.9 167.2,291.6 167.6,291.5 168.0,291.4 168.4,291.4 168.8,291.4 169.2,291.3 169.6,291.3 170.0,291.3 170.4,291.3 170.8,291.3 171.2,291.3 171.6,291.3 172.0,291.3 172.4,291.3 172.8,291.3 173.2,291.2 173.6,291.2 174.0,291.2 174.4,291.2 174.8,291.2 175.2,291.2 175.6,291.2 176.0,291.2 176.4,291.2 176.8,291.2 177.2,291.2 177.6,291.2 178.0,291.2 178.4,291.2 178.8,291.2 179.2,291.2 179.6,291.2 180.0,291.2 180.4,291.2 180.8,291.2 181.2,291.3 181.6,291.3 182.0,291.3 182.4,291.3 182.8,291.3 183.2,291.3 183.6,291.3 184.0,291.3 184.4,291.3 184.8,291.3 185.2,291.3 185.6,291.4 186.0,291.4 186.4,291.5 186.8,291.5 187.2,291.6 187.6,291.8 188.0,292.2 188.4,292.9 188.8,294.7 189.2,301.3 189.6,319.1 189.6,319.1 190.0,301.3 190.4,294.7 190.8,292.9 191.2,292.2 191.6,291.8 192.0,291.6 192.4,291.5 192.8,291.5 193.2,291.4 193.6,291.4 194.0,291.3 194.4,291.3 194.8,291.3 195.2,291.3 195.6,291.3 196.0,291.3 196.4,291.3 196.8,291.3 197.2,291.3 197.6,291.3 198.0,291.3 198.4,291.3 198.8,291.2 199.2,291.2 199.6,291.2 200.0,291.2 200.4,291.2 200.8,291.2 201.2,291.2 201.6,291.2 202.0,291.2 202.4,291.2 202.8,291.2 203.2,291.2 203.6,291.2 204.0,291.2 204.4,291.3 204.8,291.3 205.2,291.3 205.6,291.3 206.0,291.3 206.4,291.3 206.8,291.3 207.2,291.3 207.6,291.3 208.0,291.3 208.4,291.3 208.8,291.3 209.2,291.4 209.6,291.4 210.0,291.4 210.4,291.5 210.8,291.6 211.2,291.7 211.6,291.9 212.0,292.3 212.4,293.2 212.8,295.7 213.2,305.7 213.5,320.1 213.6,317.2 214.0,298.9 214.4,294.1 214.8,292.7 215.2,292.1 215.6,291.8 216.0,291.6 216.4,291.5 216.8,291.5 217.2,291.4 217.6,291.4 218.0,291.3 218.4,291.3 218.8,291.3 219.2,291.3 219.6,291.3 220.0,291.3 220.4,291.3 220.8,291.3 221.2,291.3 221.6,291.3 222.0,291.3 222.4,291.3 222.8,291.3 223.2,291.2 223.6,291.2 224.0,291.2 224.4,291.2 224.8,291.2 225.2,291.2 225.6,291.2 226.0,291.2 226.4,291.2 226.8,291.2 227.2,291.2 227.6,291.3 228.0,291.3 228.4,291.3 228.8,291.3 229.2,291.3 229.6,291.3 230.0,291.3 230.4,291.3 230.8,291.3 231.2,291.3 231.6,291.3 232.0,291.3 232.4,291.3 232.8,291.3 233.2,291.4 233.6,291.4 234.0,291.4 234.4,291.5 234.8,291.6 235.2,291.7 235.6,292.0 236.0,292.4 236.4,293.4 236.8,296.1 237.2,307.1 237.5,323.0 237.6,319.8 238.0,299.6 238.4,294.4 238.8,292.8 239.2,292.2 239.6,291.9 240.0,291.7 240.4,291.6 240.8,291.5 241.2,291.4 241.6,291.4 242.0,291.4 242.4,291.3 242.8,291.3 243.2,291.3 243.6,291.3 244.0,291.3 244.4,291.3 244.8,291.3 245.2,291.3 245.6,291.3 246.0,291.3 246.4,291.3 246.8,291.3 247.2,291.3 247.6,291.3 248.0,291.3 248.4,291.3 248.8,291.3 249.2,291.3 249.6,291.3 250.0,291.3 250.4,291.3 250.8,291.3 251.2,291.3 251.6,291.3 252.0,291.3 252.4,291.3 252.8,291.3 253.2,291.3 253.6,291.3 254.0,291.3 254.4,291.3 254.8,291.3 255.2,291.3 255.6,291.3 256.0,291.3 256.4,291.4 256.8,291.4 257.2,291.4 257.6,291.5 258.0,291.5 258.4,291.6 258.8,291.8 259.2,292.1 259.6,292.6 260.0,293.6 260.4,296.6 260.8,308.6 261.1,326.0 261.2,322.5 261.6,300.4 262.0,294.7 262.4,293.0 262.8,292.3 263.2,291.9 263.6,291.7 264.0,291.6 264.4,291.5 264.8,291.4 265.2,291.4 265.6,291.4 266.0,291.3 266.4,291.3 266.8,291.3 267.2,291.3 267.6,291.3 268.0,291.3 268.4,291.3 268.8,291.3 269.2,291.3 269.6,291.3 270.0,291.3 270.4,291.3 270.8,291.3 271.2,291.3 271.6,291.3 272.0,291.3 272.4,291.3 272.8,291.3 273.2,291.3 273.6,291.3 274.0,291.3 274.4,291.3 274.8,291.3 275.2,291.3 275.6,291.3 276.0,291.3 276.4,291.3 276.8,291.3 277.2,291.3 277.6,291.3 278.0,291.3 278.4,291.3 278.8,291.3 279.2,291.3 279.6,291.4 280.0,291.4 280.4,291.4 280.8,291.5 281.2,291.5 281.6,291.6 282.0,291.7 282.4,291.9 282.8,292.3 283.2,293.0 283.6,294.8 284.0,300.6 284.4,323.2 284.5,326.7 284.8,309.0 285.2,296.7 285.6,293.7 286.0,292.6 286.4,292.1 286.8,291.8 287.2,291.7 287.6,291.5 288.0,291.5 288.4,291.4 288.8,291.4 289.2,291.4 289.6,291.3 290.0,291.3 290.4,291.3 290.8,291.3 291.2,291.3 291.6,291.3 292.0,291.3 292.4,291.3 292.8,291.3 293.2,291.3 293.6,291.3 294.0,291.3 294.4,291.3 294.8,291.3 295.2,291.3 295.6,291.3 296.0,291.3 296.4,291.3 296.8,291.3 297.2,291.3 297.6,291.3 298.0,291.3 298.4,291.3 298.8,291.3 299.2,291.3 299.6,291.3 300.0,291.3 300.4,291.3 300.8,291.3 301.2,291.3 301.6,291.3 302.0,291.3 302.4,291.3 302.8,291.4 303.2,291.4 303.6,291.4 304.0,291.5 304.4,291.6 304.8,291.7 305.2,291.8 305.6,292.1 306.0,292.5 306.4,293.5 306.8,296.0 307.2,305.3 307.6,330.2 307.6,330.2 308.0,305.3 308.4,296.0 308.8,293.5 309.2,292.5 309.6,292.1 310.0,291.8 310.4,291.7 310.8,291.6 311.2,291.5 311.6,291.4 312.0,291.4 312.4,291.4 312.8,291.4 313.2,291.3 313.6,291.3 314.0,291.3 314.4,291.3 314.8,291.3 315.2,291.3 315.6,291.3 316.0,291.3 316.4,291.3 316.8,291.3 317.2,291.3 317.6,291.3 318.0,291.3 318.4,291.3 318.8,291.3 319.2,291.3 319.6,291.3 320.0,291.3 320.4,291.3 320.8,291.3 321.2,291.3 321.6,291.3 322.0,291.3 322.4,291.3 322.8,291.3 323.2,291.3 323.6,291.3 324.0,291.3 324.4,291.3 324.8,291.3 325.2,291.4 325.6,291.4 326.0,291.4 326.4,291.5 326.8,291.5 327.2,291.6 327.6,291.7 328.0,291.9 328.4,292.2 328.8,292.8 329.2,294.0 329.6,297.5 330.0,311.5 330.3,331.8 330.4,327.8 330.8,302.0 331.2,295.3 331.6,293.3 332.0,292.4 332.4,292.0 332.8,291.8 333.2,291.6 333.6,291.6 334.0,291.5 334.4,291.4 334.8,291.4 335.2,291.4 335.6,291.4 336.0,291.3 336.4,291.3 336.8,291.3 337.2,291.3 337.6,291.3 338.0,291.3 338.4,291.3 338.8,291.3 339.2,291.3 339.6,291.3 340.0,291.3 340.4,291.3 340.8,291.3 341.2,291.3 341.6,291.3 342.0,291.3 342.4,291.3 342.8,291.3 343.2,291.3 343.6,291.3 344.0,291.3 344.4,291.3 344.8,291.3 345.2,291.3 345.6,291.3 346.0,291.3 346.4,291.3 346.8,291.3 347.2,291.3 347.6,291.4 348.0,291.4 348.4,291.4 348.8,291.4 349.2,291.5 349.6,291.6 350.0,291.7 350.4,291.8 350.8,292.1 351.2,292.5 351.6,293.3 352.0,295.4 352.4,302.4 352.8,329.1 352.9,333.3 353.2,312.3 353.6,297.8 354.0,294.1 354.4,292.8 354.8,292.2 355.2,291.9 355.6,291.7 356.0,291.6 356.4,291.5 356.8,291.5 357.2,291.4 357.6,291.4 358.0,291.4 358.4,291.3 358.8,291.3 359.2,291.3 359.6,291.3 360.0,291.3 360.4,291.3 360.8,291.3 361.2,291.3 361.6,291.3 362.0,291.3 362.4,291.3 362.8,291.3 363.2,291.3 363.6,291.3 364.0,291.3 364.4,291.3 364.8,291.3 365.2,291.3 365.6,291.3 366.0,291.3 366.4,291.3 366.8,291.3 367.2,291.3 367.6,291.3 368.0,291.3 368.4,291.3 368.8,291.3 369.2,291.3 369.6,291.3 370.0,291.4 370.4,291.4 370.8,291.4 371.2,291.5 371.6,291.5 372.0,291.6 372.4,291.7 372.8,291.9 373.2,292.2 373.6,292.8 374.0,294.1 374.4,297.7 374.8,312.3 375.1,333.3 375.2,329.1 375.6,302.4 376.0,295.4 376.4,293.3 376.8,292.5 377.2,292.1 377.6,291.8 378.0,291.7 378.4,291.6 378.8,291.5 379.2,291.4 379.6,291.4 380.0,291.4 380.4,291.3 380.8,291.3 381.2,291.3 381.6,291.3 382.0,291.3"/>
<polyline stroke="#f00" stroke-width="1.7" stroke-dasharray="5.4 2.2" points="427.5,291.6 427.9,291.7 428.3,291.8 428.7,292.0 429.1,292.4 429.5,293.1 429.9,294.5 430.3,298.6 430.7,315.1 431.0,338.9 431.1,334.2 431.5,303.8 431.9,296.0 432.3,293.6 432.7,292.7 433.1,292.2 433.5,291.9 433.9,291.7 434.3,291.6 434.7,291.5 435.1,291.5 435.5,291.4 435.9,291.4 436.3,291.4 436.7,291.4 437.1,291.4 437.5,291.3 437.9,291.3 438.3,291.3 438.7,291.3 439.1,291.3 439.5,291.3 439.9,291.3 440.3,291.3 440.7,291.3 441.1,291.3 441.5,291.3 441.9,291.3 442.3,291.3 442.7,291.4 443.1,291.4 443.5,291.4 443.9,291.4 444.3,291.4 444.7,291.5 445.1,291.5 445.5,291.6 445.9,291.7 446.3,291.9 446.7,292.1 447.1,292.6 447.5,293.4 447.9,295.3 448.3,301.0 448.7,325.0 448.9,340.0 449.1,325.0 449.5,301.0 449.9,295.3 450.3,293.4 450.7,292.6 451.1,292.1 451.5,291.9 451.9,291.7 452.3,291.6 452.7,291.5 453.1,291.5 453.5,291.4 453.9,291.4 454.3,291.4 454.7,291.4 455.1,291.4 455.5,291.4 455.9,291.3 456.3,291.3 456.7,291.3 457.1,291.3 457.5,291.3 457.9,291.3 458.3,291.3 458.7,291.3 459.1,291.3 459.5,291.3 459.9,291.3 460.3,291.4 460.7,291.4 461.1,291.4 461.5,291.4 461.9,291.4 462.3,291.5 462.7,291.5 463.1,291.6 463.5,291.7 463.9,291.8 464.3,292.0 464.7,292.3 465.1,292.9 465.5,294.1 465.9,297.3 466.3,308.8 466.7,340.0 466.7,340.0 467.1,308.8 467.5,297.3 467.9,294.1 468.3,292.9 468.7,292.3 469.1,292.0 469.5,291.8 469.9,291.7 470.3,291.6 470.7,291.5 471.1,291.5 471.5,291.4 471.9,291.4 472.3,291.4 472.7,291.4 473.1,291.4 473.5,291.4 473.9,291.3 474.3,291.3 474.7,291.3 475.1,291.3 475.5,291.3 475.9,291.3 476.3,291.3 476.7,291.3 477.1,291.3 477.5,291.4 477.9,291.4 478.3,291.4 478.7,291.4 479.1,291.4 479.5,291.5 479.9,291.5 480.3,291.5 480.7,291.6 481.1,291.7 481.5,291.9 481.9,292.1 482.3,292.5 482.7,293.4 483.1,295.2 483.5,300.9 483.9,324.6 484.1,339.4 484.3,324.6 484.7,300.9 485.1,295.2 485.5,293.4 485.9,292.5 486.3,292.1 486.7,291.9 487.1,291.7 487.5,291.6 487.9,291.5 488.3,291.5 488.7,291.5 489.1,291.4 489.5,291.4 489.9,291.4 490.3,291.4 490.7,291.4 491.1,291.4 491.5,291.3 491.9,291.3 492.3,291.3 492.7,291.3 493.1,291.3 493.5,291.3 493.9,291.4 494.3,291.4 494.7,291.4 495.1,291.4 495.5,291.4 495.9,291.4 496.3,291.4 496.7,291.5 497.1,291.5 497.5,291.6 497.9,291.7 498.3,291.8 498.7,292.0 499.1,292.4 499.5,293.1 499.9,294.5 500.3,298.6 500.7,314.9 501.0,338.5 501.1,333.8 501.5,303.8 501.9,296.0 502.3,293.6 502.7,292.7 503.1,292.2 503.5,291.9 503.9,291.7 504.3,291.6 504.7,291.6 505.1,291.5 505.5,291.5 505.9,291.4 506.3,291.4 506.7,291.4 507.1,291.4 507.5,291.4 507.9,291.4 508.3,291.3 508.7,291.3 509.1,291.3 509.5,291.3 509.9,291.3 510.3,291.3 510.7,291.3 511.1,291.4 511.5,291.4 511.9,291.4 512.3,291.4 512.7,291.4 513.1,291.4 513.5,291.5 513.9,291.5 514.3,291.5 514.7,291.6 515.1,291.7 515.5,291.9 515.9,292.2 516.3,292.6 516.7,293.6 517.1,295.8 517.5,303.4 517.9,332.6 518.0,337.2 518.3,314.2 518.7,298.4 519.1,294.4 519.5,293.0 519.9,292.4 520.3,292.0 520.7,291.8 521.1,291.7 521.5,291.6 521.9,291.5 522.3,291.5 522.7,291.4 523.1,291.4 523.5,291.4 523.9,291.4 524.3,291.4 524.7,291.4 525.1,291.3 525.5,291.3 525.9,291.3 526.3,291.3 526.7,291.3 527.1,291.3 527.5,291.3 527.9,291.3 528.3,291.4 528.7,291.4 529.1,291.4 529.5,291.4 529.9,291.4 530.3,291.4 530.7,291.5 531.1,291.5 531.5,291.6 531.9,291.7 532.3,291.9 532.7,292.1 533.1,292.6 533.5,293.5 533.9,295.7 534.3,303.0 534.7,331.1 534.8,335.5 535.1,313.4 535.5,298.1 535.9,294.3 536.3,292.9 536.7,292.3 537.1,292.0 537.5,291.8 537.9,291.7 538.3,291.6 538.7,291.5 539.1,291.5 539.5,291.4 539.9,291.4 540.3,291.4 540.7,291.4 541.1,291.4 541.5,291.4 541.9,291.3 542.3,291.3 542.7,291.3 543.1,291.3 543.5,291.3 543.9,291.3 544.3,291.4 544.7,291.4 545.1,291.4 545.5,291.4 545.9,291.4 546.3,291.4 546.7,291.5 547.1,291.5 547.5,291.6 547.9,291.6 548.3,291.8 548.7,292.0 549.1,292.3 549.5,292.9 549.9,294.2 550.3,297.9 550.7,312.5 551.0,333.8 551.1,329.6 551.5,302.5 551.9,295.5 552.3,293.4 552.7,292.5 553.1,292.1 553.5,291.9 553.9,291.7 554.3,291.6 554.7,291.5 555.1,291.5 555.5,291.4 555.9,291.4 556.3,291.4 556.7,291.4 557.1,291.4 557.5,291.4 557.9,291.3 558.3,291.3 558.7,291.3 559.1,291.3 559.5,291.3 559.9,291.3 560.3,291.3 560.7,291.4 561.1,291.4 561.5,291.4 561.9,291.4 562.3,291.4 562.7,291.4 563.1,291.5 563.5,291.5 563.9,291.6 564.3,291.7 564.7,291.9 565.1,292.2 565.5,292.8 565.9,294.0 566.3,297.4 566.7,311.1 567.0,331.0 567.1,327.1 567.5,301.8 567.9,295.2 568.3,293.3 568.7,292.4 569.1,292.0 569.5,291.8 569.9,291.7 570.3,291.6 570.7,291.5 571.1,291.5 571.5,291.4 571.9,291.4 572.3,291.4 572.7,291.4 573.1,291.4 573.5,291.3 573.9,291.3 574.3,291.3 574.7,291.3 575.1,291.3 575.5,291.3 575.9,291.3 576.3,291.3 576.7,291.4 577.1,291.4 577.5,291.4 577.9,291.4 578.3,291.4 578.7,291.5 579.1,291.5 579.5,291.6 579.9,291.7 580.3,291.8 580.7,292.1 581.1,292.5 581.5,293.5 581.9,295.9 582.3,304.9 582.7,329.1 582.7,329.1 583.1,304.9 583.5,295.9 583.9,293.5 584.3,292.5 584.7,292.1 585.1,291.8 585.5,291.7 585.9,291.6 586.3,291.5 586.7,291.5 587.1,291.4 587.5,291.4 587.9,291.4 588.3,291.4 588.7,291.4 589.1,291.3 589.5,291.3 589.9,291.3 590.3,291.3 590.7,291.3 591.1,291.3 591.5,291.3 591.9,291.3 592.3,291.4 592.7,291.4 593.1,291.4 593.5,291.4 593.9,291.4 594.3,291.5 594.7,291.5 595.1,291.6 595.5,291.7 595.9,291.9 596.3,292.2 596.7,292.8 597.1,294.2 597.5,298.4 597.9,315.9 598.1,326.8 598.3,315.9 598.7,298.4 599.1,294.2 599.5,292.8 599.9,292.2 600.3,291.9 600.7,291.7 601.1,291.6 601.5,291.5 601.9,291.5 602.3,291.4 602.7,291.4 603.1,291.4 603.5,291.4 603.9,291.3 604.3,291.3 604.7,291.3 605.1,291.3 605.5,291.3 605.9,291.3 606.3,291.3 606.7,291.3 607.1,291.3 607.5,291.3 607.9,291.4 608.3,291.4 608.7,291.4 609.1,291.4 609.5,291.4 609.9,291.5 610.3,291.5 610.7,291.6 611.1,291.8 611.5,292.0 611.9,292.5 612.3,293.5 612.7,296.3 613.1,307.4 613.4,323.5 613.5,320.3 613.9,299.8 614.3,294.5 614.7,292.9 615.1,292.2 615.5,291.9 615.9,291.7 616.3,291.6 616.7,291.5 617.1,291.5 617.5,291.4 617.9,291.4 618.3,291.4 618.7,291.4 619.1,291.3 619.5,291.3 619.9,291.3 620.3,291.3 620.7,291.3 621.1,291.3 621.5,291.3 621.9,291.3 622.3,291.3 622.7,291.3 623.1,291.3 623.5,291.4 623.9,291.4 624.3,291.4 624.7,291.4 625.1,291.5 625.5,291.6 625.9,291.7 626.3,291.8 626.7,292.2 627.1,292.8 627.5,294.4 627.9,300.1 628.3,319.4 628.4,320.1 628.7,303.5 629.1,295.2 629.5,293.1 629.9,292.3 630.3,291.9 630.7,291.7 631.1,291.6 631.5,291.5 631.9,291.4 632.3,291.4 632.7,291.4 633.1,291.4 633.5,291.3 633.9,291.3 634.3,291.3 634.7,291.3 635.1,291.3 635.5,291.3 635.9,291.3 636.3,291.3 636.7,291.3 637.1,291.3 637.5,291.3 637.9,291.3 638.3,291.4 638.7,291.4 639.1,291.4 639.5,291.4 639.9,291.5 640.3,291.6 640.7,291.7 641.1,291.9 641.5,292.4 641.9,293.4 642.3,296.5 642.7,309.5 642.9,317.6 643.1,309.5 643.5,296.5 643.9,293.4 644.3,292.4 644.7,291.9 645.1,291.7 645.5,291.6 645.9,291.5 646.3,291.4 646.7,291.4 647.1,291.4 647.5,291.4 647.9,291.3 648.3,291.3 648.7,291.3 649.1,291.3 649.5,291.3 649.9,291.3 650.3,291.3 650.7,291.3 651.1,291.3 651.5,291.3 651.9,291.3 652.3,291.3 652.7,291.3 653.1,291.4 653.5,291.4 653.9,291.4 654.3,291.5 654.7,291.6 655.1,291.7 655.5,291.9 655.9,292.4 656.3,293.5 656.7,297.3 657.1,311.8 657.2,314.1 657.5,302.7 657.9,294.8 658.3,292.8 658.7,292.1 659.1,291.8 659.5,291.6 659.9,291.5 660.3,291.4 660.7,291.4 661.1,291.4 661.5,291.3 661.9,291.3 662.3,291.3 662.7,291.3 663.1,291.3 663.5,291.3 663.9,291.3 664.3,291.3 664.7,291.3 665.1,291.3 665.5,291.3 665.9,291.3 666.3,291.3 666.7,291.3 667.1,291.3 667.5,291.4 667.9,291.4 668.3,291.4 668.7,291.5 669.1,291.6 669.5,291.7 669.9,292.0 670.3,292.7 670.7,294.5 671.1,301.7 671.4,312.1 671.5,310.0 671.9,296.8 672.3,293.3 672.7,292.3 673.1,291.9 673.5,291.6 673.9,291.5 674.3,291.5 674.7,291.4 675.1,291.4 675.5,291.3 675.9,291.3 676.3,291.3 676.7,291.3 677.1,291.3 677.5,291.3 677.9,291.3 678.3,291.3 678.7,291.3 679.1,291.3 679.5,291.3 679.9,291.3 680.3,291.3 680.7,291.3 681.1,291.3 681.5,291.4 681.9,291.4 682.3,291.5 682.7,291.5 683.1,291.7 683.5,291.9 683.9,292.5 684.3,294.0 684.7,300.2 685.0,309.2 685.1,307.4 685.5,296.0 685.9,293.0 686.3,292.1 686.7,291.8 687.1,291.6 687.5,291.5 687.9,291.4 688.3,291.4 688.7,291.3 689.1,291.3 689.5,291.3 689.9,291.3 690.3,291.3 690.7,291.3 691.1,291.3 691.5,291.3 691.9,291.3 692.3,291.3 692.7,291.3 693.1,291.3 693.5,291.3 693.9,291.3 694.3,291.3 694.7,291.3 695.1,291.4 695.5,291.4 695.9,291.4 696.3,291.5 696.7,291.7 697.1,292.0 697.5,292.7 697.9,295.2 698.3,304.7 698.4,306.2 698.7,298.7 699.1,293.5 699.5,292.3 699.9,291.8 700.3,291.6 700.7,291.5 701.1,291.4 701.5,291.4 701.9,291.3 702.3,291.3 702.7,291.3 703.1,291.3 703.5,291.3 703.9,291.3 704.3,291.3 704.7,291.3 705.1,291.3 705.5,291.3 705.9,291.3 706.3,291.3 706.7,291.3 707.1,291.3 707.5,291.3 707.9,291.3 708.3,291.3 708.7,291.3 709.1,291.4 709.5,291.4 709.9,291.5 710.3,291.7 710.7,292.0 711.1,293.0 711.5,296.9 711.8,302.5 711.9,301.4 712.3,294.2 712.7,292.3 713.1,291.8 713.5,291.6 713.9,291.4 714.3,291.4 714.7,291.3 715.1,291.3 715.5,291.3 715.9,291.3 716.3,291.3 716.7,291.3 717.1,291.2 717.5,291.2 717.9,291.2 718.3,291.2 718.7,291.2 719.1,291.2 719.5,291.2 719.9,291.2 720.3,291.2 720.7,291.2 721.1,291.2 721.5,291.2 721.9,291.2"/>
<polyline stroke="#1f77b4" points="86.4,353.6 86.7,357.7 87.0,355.1 87.3,357.1 87.6,355.4 87.9,354.0 88.2,355.6 88.5,354.3 88.8,353.8 89.1,353.5 89.4,355.0 89.7,354.1 90.0,353.4 90.3,353.5 90.4,352.5 90.6,354.0 90.9,355.8 91.0,358.7 91.2,358.0 91.5,356.3 91.8,354.8 92.1,354.5 92.4,355.5 92.7,354.8 93.0,357.5 93.3,355.6 93.6,356.6 93.9,357.5 94.2,356.3 94.5,354.3 94.8,355.0 95.1,357.7 95.4,353.8 95.7,354.6 96.0,356.3 96.3,357.4 96.6,357.2 96.9,356.8 97.2,356.7 97.5,355.2 97.8,353.9 98.1,356.4 98.4,353.9 98.7,357.1 99.0,354.2 99.3,353.7 99.6,358.0 99.9,354.3 100.2,356.2 100.5,353.9 100.8,357.9 101.1,353.7 101.4,356.6 101.7,357.3 102.0,354.9 102.3,353.6 102.6,353.8 102.9,353.9 103.2,356.9 103.5,355.9 103.8,357.5 104.1,356.4 104.4,356.2 104.7,354.5 105.0,354.6 105.3,357.9 105.6,357.8 105.9,355.5 106.2,357.1 106.5,356.8 106.8,354.8 107.1,354.5 107.4,356.9 107.7,357.8 108.0,357.9 108.3,355.2 108.6,353.9 108.9,355.0 109.2,353.9 109.5,357.9 109.8,354.9 110.1,357.3 110.4,354.7 110.7,357.8 111.0,355.7 111.3,357.3 111.6,356.2 111.9,356.9 112.2,353.9 112.5,353.9 112.8,355.1 113.1,357.4 113.4,357.5 113.7,356.6 114.0,356.0 114.3,353.4 114.6,356.7 114.9,353.8 115.2,351.0 115.2,352.0 115.5,353.8 115.8,359.7 115.8,359.9 116.1,358.6 116.4,354.6 116.7,357.0 117.0,357.7 117.3,356.4 117.6,354.4 117.9,357.7 118.2,354.1 118.5,354.6 118.8,357.4 119.1,356.2 119.4,355.1 119.7,357.1 120.0,356.4 120.3,354.1 120.6,354.6 120.9,357.2 121.2,357.2 121.5,353.9 121.8,355.9 122.1,356.7 122.4,355.0 122.7,353.9 123.0,355.4 123.3,357.7 123.6,356.8 123.9,354.5 124.2,357.3 124.5,356.5 124.8,354.9 125.1,354.8 125.4,354.4 125.7,355.4 126.0,355.2 126.3,354.9 126.6,357.4 126.9,356.9 127.2,355.8 127.5,357.8 127.8,356.6 128.1,357.8 128.4,357.2 128.7,356.4 129.0,356.7 129.3,357.0 129.6,356.9 129.9,357.4 130.2,355.1 130.5,355.2 130.8,354.7 131.1,357.7 131.4,357.6 131.7,355.5 132.0,355.4 132.3,354.2 132.6,357.9 132.9,356.6 133.2,357.8 133.5,356.4 133.8,355.9 134.1,356.9 134.4,357.5 134.7,357.3 135.0,355.1 135.3,355.8 135.6,357.8 135.9,355.8 136.2,357.1 136.5,355.9 136.8,357.3 137.1,353.9 137.4,353.6 137.7,354.0 138.0,355.5 138.3,355.2 138.6,357.8 138.9,357.9 139.2,354.1 139.5,357.1 139.8,355.4 140.1,356.1 140.4,352.8 140.4,354.6 140.7,353.8 141.0,358.5 141.0,358.0 141.3,356.2 141.6,355.4 141.9,355.7 142.2,355.9 142.5,356.0 142.8,356.9 143.1,357.3 143.4,357.9 143.7,356.6 144.0,354.7 144.3,356.2 144.6,355.5 144.9,354.6 145.2,355.1 145.5,354.6 145.8,356.0 146.1,353.9 146.4,356.0 146.7,355.4 147.0,353.6 147.3,354.8 147.6,357.9 147.9,356.2 148.2,353.9 148.5,356.1 148.8,356.7 149.1,354.2 149.4,355.4 149.7,354.5 150.0,356.0 150.3,357.2 150.6,354.7 150.9,354.2 151.2,354.2 151.5,356.3 151.8,353.9 152.1,355.9 152.4,357.2 152.7,357.0 153.0,356.5 153.3,353.6 153.6,355.5 153.9,354.7 154.2,355.9 154.5,354.3 154.8,354.2 155.1,357.8 155.4,357.5 155.7,354.0 156.0,357.2 156.3,353.9 156.6,355.1 156.9,358.0 157.2,357.7 157.5,355.7 157.8,356.7 158.1,355.3 158.4,357.3 158.7,355.0 159.0,354.5 159.3,354.2 159.6,356.4 159.9,356.1 160.2,357.6 160.5,354.2 160.8,357.1 161.1,357.8 161.4,356.9 161.7,354.1 162.0,354.3 162.3,354.0 162.6,355.1 162.9,356.9 163.2,354.2 163.5,355.5 163.8,353.7 164.1,356.5 164.4,353.7 164.7,356.1 165.0,354.3 165.0,352.5 165.3,357.2 165.6,358.3 165.6,359.1 165.9,357.6 166.2,355.4 166.5,355.7 166.8,357.2 167.1,357.5 167.4,357.4 167.7,356.1 168.0,357.5 168.3,354.2 168.6,357.9 168.9,353.8 169.2,357.6 169.5,357.1 169.8,355.3 170.1,357.1 170.4,357.8 170.7,354.3 171.0,356.5 171.3,353.6 171.6,356.5 171.9,353.9 172.2,356.5 172.5,353.7 172.8,355.4 173.1,357.4 173.4,354.9 173.7,357.9 174.0,355.7 174.3,354.4 174.6,357.7 174.9,354.3 175.2,356.2 175.5,357.7 175.8,357.7 176.1,356.0 176.4,354.5 176.7,355.8 177.0,354.9 177.3,355.0 177.6,355.0 177.9,354.5 178.2,353.8 178.5,356.9 178.8,353.7 179.1,356.1 179.4,355.2 179.7,356.5 180.0,356.2 180.3,355.7 180.6,357.0 180.9,356.1 181.2,357.5 181.5,356.2 181.8,357.5 182.1,357.4 182.4,356.7 182.7,355.0 183.0,355.7 183.3,353.9 183.6,356.8 183.9,356.4 184.2,357.2 184.5,354.0 184.8,354.1 185.1,356.4 185.4,356.8 185.7,353.9 186.0,353.7 186.3,355.0 186.6,355.0 186.9,353.8 187.2,354.0 187.5,354.4 187.8,353.5 188.1,354.1 188.4,353.4 188.7,354.7 189.0,355.7 189.3,353.4 189.6,350.0 189.6,349.4 189.9,352.7 190.2,356.0 190.2,356.6 190.5,358.8 190.8,357.5 191.1,356.2 191.4,356.3 191.7,356.9 192.0,357.2 192.3,354.6 192.6,357.1 192.9,356.4 193.2,354.8 193.5,354.9 193.8,354.3 194.1,356.0 194.4,357.9 194.7,357.1 195.0,354.3 195.3,354.1 195.6,354.8 195.9,354.3 196.2,354.2 196.5,356.8 196.8,355.0 197.1,356.1 197.4,355.0 197.7,357.9 198.0,356.2 198.3,354.2 198.6,357.0 198.9,354.9 199.2,355.6 199.5,354.9 199.8,355.8 200.1,355.0 200.4,355.0 200.7,354.3 201.0,357.8 201.3,354.5 201.6,354.8 201.9,355.4 202.2,354.1 202.5,354.6 202.8,355.4 203.1,356.2 203.4,356.0 203.7,355.2 204.0,356.6 204.3,356.9 204.6,354.8 204.9,354.7 205.2,356.4 205.5,355.4 205.8,357.3 206.1,353.6 206.4,356.0 206.7,355.1 207.0,354.5 207.3,357.4 207.6,354.6 207.9,357.1 208.2,357.4 208.5,357.9 208.8,354.1 209.1,354.3 209.4,354.0 209.7,355.0 210.0,357.6 210.3,356.4 210.6,354.3 210.9,354.1 211.2,356.9 211.5,356.3 211.8,353.6 212.1,356.1 212.4,354.3 212.7,354.6 213.0,353.4 213.3,355.9 213.5,352.7 213.6,354.1 213.9,356.7 214.1,359.7 214.2,360.5 214.5,358.4 214.8,358.2 215.1,355.0 215.4,354.8 215.7,355.5 216.0,355.0 216.3,357.3 216.6,355.3 216.9,355.3 217.2,355.8 217.5,356.1 217.8,355.2 218.1,353.7 218.4,356.8 218.7,354.1 219.0,357.4 219.3,354.7 219.6,354.7 219.9,356.0 220.2,357.6 220.5,355.3 220.8,355.7 221.1,355.4 221.4,354.1 221.7,354.9 222.0,357.6 222.3,357.7 222.6,354.7 222.9,357.6 223.2,353.7 223.5,356.8 223.8,353.7 224.1,355.5 224.4,355.4 224.7,355.5 225.0,357.7 225.3,355.2 225.6,353.7 225.9,354.1 226.2,356.9 226.5,354.2 226.8,353.9 227.1,354.5 227.4,357.9 227.7,355.6 228.0,354.3 228.3,356.5 228.6,355.3 228.9,356.0 229.2,358.0 229.5,356.7 229.8,356.0 230.1,358.0 230.4,355.8 230.7,355.6 231.0,357.3 231.3,357.8 231.6,356.8 231.9,355.2 232.2,355.4 232.5,353.6 232.8,354.7 233.1,357.0 233.4,355.7 233.7,357.4 234.0,356.5 234.3,356.1 234.6,357.1 234.9,355.8 235.2,356.5 235.5,355.7 235.8,355.1 236.1,356.9 236.4,353.8 236.7,357.7 237.0,357.4 237.3,355.9 237.5,353.7 237.6,354.1 237.9,356.2 238.1,357.6 238.2,356.4 238.5,357.8 238.8,357.7 239.1,355.9 239.4,357.4 239.7,354.9 240.0,357.4 240.3,357.9 240.6,356.6 240.9,357.8 241.2,356.8 241.5,356.7 241.8,355.7 242.1,353.9 242.4,354.2 242.7,357.2 243.0,354.4 243.3,356.6 243.6,354.3 243.9,356.9 244.2,357.8 244.5,356.3 244.8,353.8 245.1,356.8 245.4,355.7 245.7,357.4 246.0,354.3 246.3,354.8 246.6,357.6 246.9,357.3 247.2,357.6 247.5,355.9 247.8,356.6 248.1,357.7 248.4,356.5 248.7,354.0 249.0,354.3 249.3,353.6 249.6,354.1 249.9,353.7 250.2,355.3 250.5,356.3 250.8,357.4 251.1,355.4 251.4,354.3 251.7,357.6 252.0,357.6 252.3,357.9 252.6,353.7 252.9,356.2 253.2,356.4 253.5,355.9 253.8,354.4 254.1,357.6 254.4,356.0 254.7,353.8 255.0,355.1 255.3,356.8 255.6,354.5 255.9,357.0 256.2,354.5 256.5,355.5 256.8,354.9 257.1,354.1 257.4,357.5 257.7,355.1 258.0,356.9 258.3,357.5 258.6,354.8 258.9,353.5 259.2,355.8 259.5,354.5 259.8,357.2 260.1,353.9 260.4,356.0 260.7,351.9 261.0,350.0 261.1,349.2 261.3,354.3 261.6,357.0 261.7,357.9 261.9,355.0 262.2,355.2 262.5,357.6 262.8,356.3 263.1,356.9 263.4,355.8 263.7,354.5 264.0,357.6 264.3,354.7 264.6,354.3 264.9,356.4 265.2,354.0 265.5,357.0 265.8,356.7 266.1,355.3 266.4,355.9 266.7,355.7 267.0,353.9 267.3,353.9 267.6,355.1 267.9,353.6 268.2,354.4 268.5,355.2 268.8,356.4 269.1,355.9 269.4,354.4 269.7,356.9 270.0,357.1 270.3,356.5 270.6,356.6 270.9,354.7 271.2,357.3 271.5,356.2 271.8,354.4 272.1,356.6 272.4,356.4 272.7,356.1 273.0,355.7 273.3,357.0 273.6,356.8 273.9,356.2 274.2,353.9 274.5,354.6 274.8,357.9 275.1,355.4 275.4,356.4 275.7,354.2 276.0,356.1 276.3,356.3 276.6,357.0 276.9,357.9 277.2,355.6 277.5,355.0 277.8,354.3 278.1,355.1 278.4,355.5 278.7,357.8 279.0,355.8 279.3,356.6 279.6,356.8 279.9,353.7 280.2,354.6 280.5,356.0 280.8,353.8 281.1,354.3 281.4,356.9 281.7,356.5 282.0,354.2 282.3,354.1 282.6,357.3 282.9,355.6 283.2,354.9 283.5,356.5 283.8,356.0 284.1,356.6 284.4,350.3 284.5,353.0 284.7,354.0 285.0,358.1 285.1,360.0 285.3,356.7 285.6,355.2 285.9,354.5 286.2,356.9 286.5,356.8 286.8,354.7 287.1,355.0 287.4,357.0 287.7,355.3 288.0,355.2 288.3,357.8 288.6,356.0 288.9,356.0 289.2,356.3 289.5,353.8 289.8,355.4 290.1,357.1 290.4,356.5 290.7,357.5 291.0,355.0 291.3,355.7 291.6,354.6 291.9,354.4 292.2,354.0 292.5,354.5 292.8,354.3 293.1,355.5 293.4,355.4 293.7,357.0 294.0,357.0 294.3,356.0 294.6,356.5 294.9,355.7 295.2,355.0 295.5,355.8 295.8,356.4 296.1,357.8 296.4,357.2 296.7,353.9 297.0,356.4 297.3,354.0 297.6,356.3 297.9,357.3 298.2,356.7 298.5,354.1 298.8,355.5 299.1,354.5 299.4,356.5 299.7,356.7 300.0,356.8 300.3,355.2 300.6,356.2 300.9,354.5 301.2,357.7 301.5,357.7 301.8,353.7 302.1,356.1 302.4,356.7 302.7,354.6 303.0,353.7 303.3,353.6 303.6,356.7 303.9,353.6 304.2,355.3 304.5,357.1 304.8,353.8 305.1,356.7 305.4,355.4 305.7,355.2 306.0,355.6 306.3,355.0 306.6,357.1 306.9,355.9 307.2,353.8 307.5,350.2 307.6,351.5 307.8,355.5 308.1,358.3 308.2,355.3 308.4,356.2 308.7,355.9 309.0,355.5 309.3,354.1 309.6,354.4 309.9,355.9 310.2,356.8 310.5,356.7 310.8,356.5 311.1,356.6 311.4,353.6 311.7,354.6 312.0,355.1 312.3,354.7 312.6,355.3 312.9,355.4 313.2,355.1 313.5,353.6 313.8,357.4 314.1,357.8 314.4,356.3 314.7,354.8 315.0,355.6 315.3,357.6 315.6,356.2 315.9,356.7 316.2,356.7 316.5,357.9 316.8,356.5 317.1,354.1 317.4,355.8 317.7,357.7 318.0,354.2 318.3,353.8 318.6,353.8 318.9,353.9 319.2,354.3 319.5,357.0 319.8,356.2 320.1,356.8 320.4,356.0 320.7,355.2 321.0,357.1 321.3,354.3 321.6,355.2 321.9,355.4 322.2,356.6 322.5,356.9 322.8,356.1 323.1,356.3 323.4,354.8 323.7,356.2 324.0,357.3 324.3,355.5 324.6,356.9 324.9,355.8 325.2,355.9 325.5,356.3 325.8,354.2 326.1,354.5 326.4,354.4 326.7,356.0 327.0,356.5 327.3,356.7 327.6,354.5 327.9,355.1 328.2,354.2 328.5,356.5 328.8,355.4 329.1,354.7 329.4,354.4 329.7,357.4 330.0,354.6 330.3,355.8 330.3,352.8 330.6,355.1 330.9,360.3 330.9,361.2 331.2,356.1 331.5,358.0 331.8,356.5 332.1,357.7 332.4,357.9 332.7,355.5 333.0,357.8 333.3,354.4 333.6,355.6 333.9,355.6 334.2,354.7 334.5,355.7 334.8,356.9 335.1,354.1 335.4,355.7 335.7,355.9 336.0,354.5 336.3,356.4 336.6,354.7 336.9,356.1 337.2,356.1 337.5,356.9 337.8,357.7 338.1,357.7 338.4,355.8 338.7,354.8 339.0,354.7 339.3,357.1 339.6,356.9 339.9,357.1 340.2,357.3 340.5,356.1 340.8,357.5 341.1,356.5 341.4,356.4 341.7,357.3 342.0,356.5 342.3,357.0 342.6,357.7 342.9,355.3 343.2,356.9 343.5,354.9 343.8,355.7 344.1,357.4 344.4,357.9 344.7,357.8 345.0,356.9 345.3,357.3 345.6,357.5 345.9,356.3 346.2,354.7 346.5,353.7 346.8,356.9 347.1,356.9 347.4,356.8 347.7,356.1 348.0,356.5 348.3,356.7 348.6,355.9 348.9,356.5 349.2,354.6 349.5,355.9 349.8,356.3 350.1,356.1 350.4,354.7 350.7,354.1 351.0,356.4 351.3,353.9 351.6,356.9 351.9,354.0 352.2,356.2 352.5,353.1 352.8,352.2 352.9,348.7 353.1,351.3 353.4,358.9 353.5,360.3 353.7,357.5 354.0,356.4 354.3,356.8 354.6,355.0 354.9,355.4 355.2,356.1 355.5,354.9 355.8,354.2 356.1,357.6 356.4,354.1 356.7,357.9 357.0,357.3 357.3,355.6 357.6,357.4 357.9,353.9 358.2,356.1 358.5,355.2 358.8,354.9 359.1,357.5 359.4,353.8 359.7,357.4 360.0,353.9 360.3,356.6 360.6,354.9 360.9,355.9 361.2,357.7 361.5,357.1 361.8,354.0 362.1,354.9 362.4,355.7 362.7,356.8 363.0,353.6 363.3,357.4 363.6,357.3 363.9,357.8 364.2,354.5 364.5,354.5 364.8,357.3 365.1,355.9 365.4,354.7 365.7,353.7 366.0,354.6 366.3,356.6 366.6,356.8 366.9,355.2 367.2,357.6 367.5,355.8 367.8,355.9 368.1,355.3 368.4,355.4 368.7,355.2 369.0,357.2 369.3,355.5 369.6,354.6 369.9,355.5 370.2,357.7 370.5,356.4 370.8,354.1 371.1,355.4 371.4,355.6 371.7,353.6 372.0,357.8 372.3,357.6 372.6,354.0 372.9,356.0 373.2,354.9 373.5,354.4 373.8,354.6 374.1,353.5 374.4,356.0 374.7,353.6 375.0,352.4 375.1,352.6 375.3,353.9 375.6,357.6 375.7,357.5 375.9,358.8 376.2,357.3 376.5,357.3 376.8,354.3 377.1,353.9 377.4,357.5 377.7,356.3 378.0,354.0 378.3,356.7 378.6,353.9 378.9,356.4 379.2,356.0 379.5,356.7 379.8,354.0 380.1,357.6 380.4,357.7 380.7,357.9 381.0,357.0 381.3,355.0 381.6,357.9 381.9,356.3 382.2,356.8"/>
<polyline stroke="#1f77b4" points="427.5,355.0 427.8,356.3 428.1,353.6 428.4,355.4 428.7,357.2 429.0,354.5 429.3,356.4 429.6,356.7 429.9,354.2 430.2,357.2 430.5,354.1 430.8,356.1 431.0,352.7 431.1,354.5 431.4,359.8 431.6,361.2 431.7,359.4 432.0,355.9 432.3,356.9 432.6,356.5 432.9,354.0 433.2,355.4 433.5,357.7 433.8,356.0 434.1,354.4 434.4,356.5 434.7,355.6 435.0,357.6 435.3,355.8 435.6,353.7 435.9,354.3 436.2,354.4 436.5,357.8 436.8,355.2 437.1,355.1 437.4,357.9 437.7,354.5 438.0,356.3 438.3,357.8 438.6,357.6 438.9,354.3 439.2,355.7 439.5,354.7 439.8,356.7 440.1,354.7 440.4,354.4 440.7,354.8 441.0,354.2 441.3,356.8 441.6,354.8 441.9,355.4 442.2,354.8 442.5,355.3 442.8,354.9 443.1,355.2 443.4,356.7 443.7,354.4 444.0,356.6 444.3,355.1 444.6,354.0 444.9,354.1 445.2,357.6 445.5,353.8 445.8,354.8 446.1,357.4 446.4,353.9 446.7,354.5 447.0,354.8 447.3,357.2 447.6,354.0 447.9,357.6 448.2,353.8 448.5,355.2 448.8,354.4 448.9,353.4 449.1,355.1 449.4,359.3 449.5,359.3 449.7,361.2 450.0,356.5 450.3,356.9 450.6,356.4 450.9,358.0 451.2,354.8 451.5,354.3 451.8,357.6 452.1,355.9 452.4,356.4 452.7,356.4 453.0,357.1 453.3,357.3 453.6,356.7 453.9,353.6 454.2,357.3 454.5,353.8 454.8,357.4 455.1,353.6 455.4,357.0 455.7,356.4 456.0,353.7 456.3,356.9 456.6,356.2 456.9,354.1 457.2,357.5 457.5,356.2 457.8,355.6 458.1,357.8 458.4,354.5 458.7,354.4 459.0,357.5 459.3,354.3 459.6,357.2 459.9,354.5 460.2,357.2 460.5,355.4 460.8,356.3 461.1,356.3 461.4,355.3 461.7,355.9 462.0,356.4 462.3,354.2 462.6,357.6 462.9,357.2 463.2,354.5 463.5,354.6 463.8,355.3 464.1,357.0 464.4,355.8 464.7,354.9 465.0,356.9 465.3,354.3 465.6,356.5 465.9,356.5 466.2,353.1 466.5,353.4 466.7,352.4 466.8,354.7 467.1,355.4 467.3,357.7 467.4,359.7 467.7,354.9 468.0,357.8 468.3,355.3 468.6,355.2 468.9,358.0 469.2,355.3 469.5,354.7 469.8,354.5 470.1,356.7 470.4,356.4 470.7,354.6 471.0,355.8 471.3,354.9 471.6,357.3 471.9,355.2 472.2,356.3 472.5,357.6 472.8,354.6 473.1,357.8 473.4,355.7 473.7,356.4 474.0,354.8 474.3,356.7 474.6,356.8 474.9,356.2 475.2,357.4 475.5,355.7 475.8,353.7 476.1,357.6 476.4,356.1 476.7,356.3 477.0,356.2 477.3,353.8 477.6,354.9 477.9,354.0 478.2,356.5 478.5,357.4 478.8,356.5 479.1,357.2 479.4,355.1 479.7,353.7 480.0,355.4 480.3,354.3 480.6,354.9 480.9,354.6 481.2,354.4 481.5,356.6 481.8,356.2 482.1,357.2 482.4,357.9 482.7,354.5 483.0,357.6 483.3,356.7 483.6,355.3 483.9,355.8 484.1,352.9 484.2,351.2 484.5,354.5 484.7,356.6 484.8,358.2 485.1,356.6 485.4,356.8 485.7,353.8 486.0,354.7 486.3,356.1 486.6,356.5 486.9,355.5 487.2,354.6 487.5,355.0 487.8,356.9 488.1,356.8 488.4,354.7 488.7,357.8 489.0,353.8 489.3,354.6 489.6,355.5 489.9,357.1 490.2,356.1 490.5,356.6 490.8,357.8 491.1,355.2 491.4,354.4 491.7,355.4 492.0,356.1 492.3,354.2 492.6,353.8 492.9,356.8 493.2,357.9 493.5,357.7 493.8,355.3 494.1,355.6 494.4,357.2 494.7,357.9 495.0,355.2 495.3,357.8 495.6,356.7 495.9,354.2 496.2,355.6 496.5,353.6 496.8,355.4 497.1,355.9 497.4,357.1 497.7,355.0 498.0,356.4 498.3,356.5 498.6,355.9 498.9,356.3 499.2,355.6 499.5,356.2 499.8,355.5 500.1,357.4 500.4,353.5 500.7,355.8 501.0,353.7 501.0,350.5 501.3,356.5 501.6,357.8 501.6,358.4 501.9,357.2 502.2,357.3 502.5,355.9 502.8,356.5 503.1,354.6 503.4,353.9 503.7,356.6 504.0,358.0 504.3,354.0 504.6,357.6 504.9,355.3 505.2,356.5 505.5,354.8 505.8,356.6 506.1,355.5 506.4,357.1 506.7,354.8 507.0,355.1 507.3,356.4 507.6,354.1 507.9,357.9 508.2,356.3 508.5,357.9 508.8,354.4 509.1,356.7 509.4,354.5 509.7,354.0 510.0,355.5 510.3,355.7 510.6,356.1 510.9,355.7 511.2,354.5 511.5,356.6 511.8,354.8 512.1,354.9 512.4,357.0 512.7,356.6 513.0,356.8 513.3,357.7 513.6,357.3 513.9,354.6 514.2,357.9 514.5,355.9 514.8,356.0 515.1,354.8 515.4,355.3 515.7,356.0 516.0,353.7 516.3,356.7 516.6,355.0 516.9,356.5 517.2,356.5 517.5,355.5 517.8,351.5 518.0,352.7 518.1,352.5 518.4,358.4 518.6,360.5 518.7,359.3 519.0,358.1 519.3,354.7 519.6,357.4 519.9,358.0 520.2,357.6 520.5,357.2 520.8,355.4 521.1,357.7 521.4,356.1 521.7,354.6 522.0,356.0 522.3,357.4 522.6,356.6 522.9,357.3 523.2,353.8 523.5,357.9 523.8,357.7 524.1,355.8 524.4,357.7 524.7,354.4 525.0,355.2 525.3,354.3 525.6,356.5 525.9,357.6 526.2,357.7 526.5,354.0 526.8,357.0 527.1,356.1 527.4,354.6 527.7,357.5 528.0,355.9 528.3,353.8 528.6,355.2 528.9,356.6 529.2,357.3 529.5,354.5 529.8,356.2 530.1,354.0 530.4,357.6 530.7,353.6 531.0,357.9 531.3,356.1 531.6,356.9 531.9,356.5 532.2,355.8 532.5,355.5 532.8,354.4 533.1,354.7 533.4,353.8 533.7,354.5 534.0,355.9 534.3,354.6 534.6,352.1 534.8,350.3 534.9,353.2 535.2,358.6 535.4,358.7 535.5,359.8 535.8,359.2 536.1,355.3 536.4,356.9 536.7,356.6 537.0,356.6 537.3,356.1 537.6,356.9 537.9,355.3 538.2,357.7 538.5,356.1 538.8,355.1 539.1,356.4 539.4,356.6 539.7,357.6 540.0,356.4 540.3,355.9 540.6,355.2 540.9,355.5 541.2,354.9 541.5,356.3 541.8,357.4 542.1,356.2 542.4,354.5 542.7,353.8 543.0,357.5 543.3,354.9 543.6,356.6 543.9,357.8 544.2,357.7 544.5,356.0 544.8,357.6 545.1,355.4 545.4,357.7 545.7,356.6 546.0,353.9 546.3,357.2 546.6,354.3 546.9,358.0 547.2,353.8 547.5,356.9 547.8,354.2 548.1,355.9 548.4,355.2 548.7,357.4 549.0,354.7 549.3,356.7 549.6,357.6 549.9,353.6 550.2,356.3 550.5,352.9 550.8,354.1 551.0,353.2 551.1,350.7 551.4,358.1 551.6,358.0 551.7,357.3 552.0,358.7 552.3,355.6 552.6,354.6 552.9,355.1 553.2,357.6 553.5,357.9 553.8,355.6 554.1,355.8 554.4,356.2 554.7,357.3 555.0,353.6 555.3,357.1 555.6,357.9 555.9,355.4 556.2,355.5 556.5,357.8 556.8,355.4 557.1,355.3 557.4,357.4 557.7,355.7 558.0,356.4 558.3,354.9 558.6,356.6 558.9,355.2 559.2,357.0 559.5,355.8 559.8,357.6 560.1,356.0 560.4,357.4 560.7,355.5 561.0,356.5 561.3,354.8 561.6,356.2 561.9,356.5 562.2,354.4 562.5,356.0 562.8,357.7 563.1,354.5 563.4,355.7 563.7,357.3 564.0,355.5 564.3,353.7 564.6,355.9 564.9,355.6 565.2,357.7 565.5,356.5 565.8,357.0 566.1,355.1 566.4,357.2 566.7,356.3 567.0,352.0 567.0,354.5 567.3,358.3 567.6,360.3 567.6,361.7 567.9,356.6 568.2,356.9 568.5,356.3 568.8,355.1 569.1,357.1 569.4,355.6 569.7,356.5 570.0,357.1 570.3,356.8 570.6,354.1 570.9,353.9 571.2,357.2 571.5,356.5 571.8,354.3 572.1,354.2 572.4,355.8 572.7,354.4 573.0,357.7 573.3,354.6 573.6,357.8 573.9,356.8 574.2,356.0 574.5,356.6 574.8,356.6 575.1,354.9 575.4,355.7 575.7,353.9 576.0,353.8 576.3,357.8 576.6,357.3 576.9,356.9 577.2,354.1 577.5,356.3 577.8,356.7 578.1,355.5 578.4,355.3 578.7,356.8 579.0,353.6 579.3,355.7 579.6,354.7 579.9,355.5 580.2,356.0 580.5,355.4 580.8,357.4 581.1,357.4 581.4,356.9 581.7,357.0 582.0,355.6 582.3,354.1 582.6,355.4 582.7,352.2 582.9,355.4 583.2,357.8 583.3,355.8 583.5,355.7 583.8,357.0 584.1,357.5 584.4,355.4 584.7,356.0 585.0,356.7 585.3,356.2 585.6,355.6 585.9,356.4 586.2,356.7 586.5,357.1 586.8,356.1 587.1,356.5 587.4,354.5 587.7,354.3 588.0,357.2 588.3,354.6 588.6,355.5 588.9,357.5 589.2,354.2 589.5,356.6 589.8,354.7 590.1,356.4 590.4,357.2 590.7,357.2 591.0,357.0 591.3,355.9 591.6,356.0 591.9,354.3 592.2,354.1 592.5,356.9 592.8,353.8 593.1,357.7 593.4,354.4 593.7,356.8 594.0,355.6 594.3,356.3 594.6,356.9 594.9,354.9 595.2,357.2 595.5,356.9 595.8,356.1 596.1,356.0 596.4,355.2 596.7,357.7 597.0,355.0 597.3,354.1 597.6,354.9 597.9,354.4 598.1,353.0 598.2,352.2 598.5,355.3 598.7,358.5 598.8,357.6 599.1,357.7 599.4,357.4 599.7,356.7 600.0,357.9 600.3,356.4 600.6,357.9 600.9,356.5 601.2,354.5 601.5,356.4 601.8,357.0 602.1,355.5 602.4,354.3 602.7,355.1 603.0,357.0 603.3,354.5 603.6,353.6 603.9,357.5 604.2,357.9 604.5,357.4 604.8,357.1 605.1,356.8 605.4,356.0 605.7,356.5 606.0,356.9 606.3,355.0 606.6,354.5 606.9,356.6 607.2,356.2 607.5,357.9 607.8,355.4 608.1,355.4 608.4,354.1 608.7,353.7 609.0,354.2 609.3,356.2 609.6,357.8 609.9,354.1 610.2,354.3 610.5,356.6 610.8,354.9 611.1,353.7 611.4,357.4 611.7,354.1 612.0,355.3 612.3,356.6 612.6,356.5 612.9,356.5 613.2,352.5 613.4,348.9 613.5,349.6 613.8,357.4 614.0,359.4 614.1,357.9 614.4,355.5 614.7,355.6 615.0,355.0 615.3,355.2 615.6,355.2 615.9,356.9 616.2,355.6 616.5,357.3 616.8,355.8 617.1,354.9 617.4,357.7 617.7,356.5 618.0,357.3 618.3,354.6 618.6,357.9 618.9,356.4 619.2,355.2 619.5,354.7 619.8,354.0 620.1,353.7 620.4,354.5 620.7,355.0 621.0,355.9 621.3,355.4 621.6,353.8 621.9,354.2 622.2,353.7 622.5,353.8 622.8,354.9 623.1,356.4 623.4,354.3 623.7,357.5 624.0,357.9 624.3,356.3 624.6,353.8 624.9,354.4 625.2,355.8 625.5,357.7 625.8,357.9 626.1,356.8 626.4,357.5 626.7,354.0 627.0,355.7 627.3,355.5 627.6,354.2 627.9,355.1 628.2,353.2 628.4,354.4 628.5,352.0 628.8,358.1 629.0,359.2 629.1,358.5 629.4,356.4 629.7,355.8 630.0,358.1 630.3,355.2 630.6,355.8 630.9,354.4 631.2,354.6 631.5,354.6 631.8,356.1 632.1,354.9 632.4,354.8 632.7,355.9 633.0,353.7 633.3,357.4 633.6,353.8 633.9,355.4 634.2,358.0 634.5,354.3 634.8,353.8 635.1,355.7 635.4,356.4 635.7,355.3 636.0,354.6 636.3,356.6 636.6,356.2 636.9,355.1 637.2,356.3 637.5,357.3 637.8,355.9 638.1,355.3 638.4,356.3 638.7,355.8 639.0,354.0 639.3,357.6 639.6,354.1 639.9,356.9 640.2,355.5 640.5,357.0 640.8,355.9 641.1,357.2 641.4,355.6 641.7,354.6 642.0,356.8 642.3,356.9 642.6,354.8 642.9,355.7 642.9,354.7 643.2,358.0 643.5,357.2 643.5,360.5 643.8,358.3 644.1,358.2 644.4,355.4 644.7,356.2 645.0,357.6 645.3,356.6 645.6,354.9 645.9,354.9 646.2,357.8 646.5,356.6 646.8,353.8 647.1,354.7 647.4,356.1 647.7,354.4 648.0,355.7 648.3,356.5 648.6,354.0 648.9,354.7 649.2,357.5 649.5,353.8 649.8,354.1 650.1,357.2 650.4,356.6 650.7,355.7 651.0,357.4 651.3,354.5 651.6,353.6 651.9,357.2 652.2,356.4 652.5,355.1 652.8,356.2 653.1,354.0 653.4,355.0 653.7,356.1 654.0,357.3 654.3,355.0 654.6,353.9 654.9,354.0 655.2,354.9 655.5,356.3 655.8,356.6 656.1,356.5 656.4,357.1 656.7,355.8 657.0,354.1 657.2,352.8 657.3,354.0 657.6,359.2 657.8,362.8 657.9,359.0 658.2,358.2 658.5,354.8 658.8,354.8 659.1,357.9 659.4,355.5 659.7,356.2 660.0,354.6 660.3,355.9 660.6,353.7 660.9,356.2 661.2,357.8 661.5,356.6 661.8,356.5 662.1,356.1 662.4,355.0 662.7,357.0 663.0,355.3 663.3,355.1 663.6,356.0 663.9,357.9 664.2,356.8 664.5,356.6 664.8,354.2 665.1,357.2 665.4,355.5 665.7,356.4 666.0,356.1 666.3,357.1 666.6,353.7 666.9,354.0 667.2,354.8 667.5,354.5 667.8,356.6 668.1,354.1 668.4,354.0 668.7,355.9 669.0,353.9 669.3,357.1 669.6,355.1 669.9,354.9 670.2,356.2 670.5,357.8 670.8,354.6 671.1,353.8 671.4,353.7 671.4,355.5 671.7,358.7 672.0,358.2 672.0,357.7 672.3,356.9 672.6,355.8 672.9,357.2 673.2,356.8 673.5,357.0 673.8,355.4 674.1,355.5 674.4,357.8 674.7,353.8 675.0,353.7 675.3,353.7 675.6,357.2 675.9,355.9 676.2,356.7 676.5,356.5 676.8,357.2 677.1,355.9 677.4,355.0 677.7,354.1 678.0,355.4 678.3,354.5 678.6,357.7 678.9,357.0 679.2,354.8 679.5,355.8 679.8,355.7 680.1,356.2 680.4,357.8 680.7,354.8 681.0,356.3 681.3,355.8 681.6,357.8 681.9,354.5 682.2,356.4 682.5,353.9 682.8,355.9 683.1,357.7 683.4,356.6 683.7,353.5 684.0,357.5 684.3,355.1 684.6,354.0 684.9,352.2 685.0,350.1 685.2,350.9 685.5,356.1 685.6,358.2 685.8,356.3 686.1,354.6 686.4,355.3 686.7,354.0 687.0,354.0 687.3,354.1 687.6,355.8 687.9,355.0 688.2,354.4 688.5,356.8 688.8,356.3 689.1,357.2 689.4,354.3 689.7,356.3 690.0,354.7 690.3,355.8 690.6,355.6 690.9,356.2 691.2,356.1 691.5,357.6 691.8,356.3 692.1,355.1 692.4,357.1 692.7,354.3 693.0,357.0 693.3,356.1 693.6,354.7 693.9,356.9 694.2,354.1 694.5,353.7 694.8,354.8 695.1,355.8 695.4,356.4 695.7,355.0 696.0,356.1 696.3,357.9 696.6,357.9 696.9,356.7 697.2,354.7 697.5,355.3 697.8,356.3 698.1,355.2 698.4,353.2 698.4,350.7 698.7,354.7 699.0,358.7 699.0,360.7 699.3,359.6 699.6,356.7 699.9,355.8 700.2,356.7 700.5,355.5 700.8,356.2 701.1,354.5 701.4,354.1 701.7,355.4 702.0,354.8 702.3,354.3 702.6,357.8 702.9,356.7 703.2,355.3 703.5,358.0 703.8,354.1 704.1,355.1 704.4,357.5 704.7,357.9 705.0,357.1 705.3,354.4 705.6,356.1 705.9,353.9 706.2,353.9 706.5,357.4 706.8,353.6 707.1,354.0 707.4,354.1 707.7,356.7 708.0,356.4 708.3,354.5 708.6,355.4 708.9,357.8 709.2,354.5 709.5,353.9 709.8,356.4 710.1,354.0 710.4,356.0 710.7,354.6 711.0,353.5 711.3,355.8 711.6,354.8 711.8,352.0 711.9,352.0 712.2,359.4 712.4,358.1 712.5,357.8 712.8,356.4 713.1,355.1 713.4,354.9 713.7,357.8 714.0,354.0 714.3,357.3 714.6,356.0 714.9,353.8 715.2,354.3 715.5,356.5 715.8,356.1 716.1,354.7 716.4,354.9 716.7,357.7 717.0,356.8 717.3,356.5 717.6,357.7 717.9,354.6 718.2,355.1 718.5,357.3 718.8,355.5 719.1,355.6 719.4,357.2 719.7,358.0 720.0,357.5 720.3,357.0 720.6,355.6 720.9,356.7 721.2,354.6 721.5,354.7 721.8,354.5 722.1,356.6 722.4,357.8 722.7,356.9"/>
</g>
<path d="M83.8,225.4 H111.4" stroke="#000" stroke-width="1.5"/>
<path d="M83.8,245.9 H111.4" stroke="#f00" stroke-width="1.5" stroke-dasharray="5.4 2.0"/>
<path d="M626.4,225.3 H655.2" stroke="#1f77b4" stroke-width="1.5"/>
<g font-family="'Liberation Serif', serif" font-size="14.6" fill="#000">
<text x="117.9" y="230.9" textLength="80.5" lengthAdjust="spacingAndGlyphs">Measurement</text>
<text x="117.9" y="251.0" textLength="110.3" lengthAdjust="spacingAndGlyphs">HITRAN database</text>
<text x="662.7" y="230.9" textLength="51.6" lengthAdjust="spacingAndGlyphs">Residual</text>
</g>
<g font-family="'Liberation Serif', serif" font-weight="bold" fill="#000">
<text transform="translate(18.4,29.3) scale(0.93,1.08)" font-size="22">a</text>
<text transform="translate(14.4,214.9) scale(1,1)" font-size="22">b</text>
<text x="345.4" y="23.7" font-size="14.6" textLength="108.6" lengthAdjust="spacingAndGlyphs">Wavelength (nm)</text>
<text x="343.5" y="192.1" font-size="14.6" textLength="125.6" lengthAdjust="spacingAndGlyphs">Wavenumber (cm<tspan font-size="9.5" dy="-5">-1</tspan><tspan dy="5">)</tspan></text>
<text x="335.7" y="404.7" font-size="14.6" textLength="125.6" lengthAdjust="spacingAndGlyphs">Wavenumber (cm<tspan font-size="9.5" dy="-5">-1</tspan><tspan dy="5">)</tspan></text>
<text transform="translate(39.4,150.4) rotate(-90)" font-size="14.6" textLength="92.0" lengthAdjust="spacingAndGlyphs">Intensity (a.u.)</text>
<text transform="translate(29.2,324.4) rotate(-90)" font-size="14.6" textLength="75.6" lengthAdjust="spacingAndGlyphs">Absorbance</text>
<text x="96.5" y="95.2" font-size="14.6" textLength="24.0" lengthAdjust="spacingAndGlyphs">R24</text>
<text x="147.6" y="99.9" font-size="14.6" textLength="24.8" lengthAdjust="spacingAndGlyphs">R20</text>
<text x="341.3" y="140.2" font-size="14.6" textLength="18.0" lengthAdjust="spacingAndGlyphs">R6</text>
<text x="429.1" y="142.2" font-size="14.6" textLength="16.0" lengthAdjust="spacingAndGlyphs">P9</text>
<text x="669.8" y="101.6" font-size="14.6" textLength="22.5" lengthAdjust="spacingAndGlyphs">P21</text>
<text x="112.3" y="152.2" font-size="14.6" textLength="60.8" lengthAdjust="spacingAndGlyphs" fill="#f00">R Branch</text>
<text x="621.5" y="152.2" font-size="14.6" textLength="58.0" lengthAdjust="spacingAndGlyphs" fill="#f00">P Branch</text>
</g>
</svg>
</body></html>
